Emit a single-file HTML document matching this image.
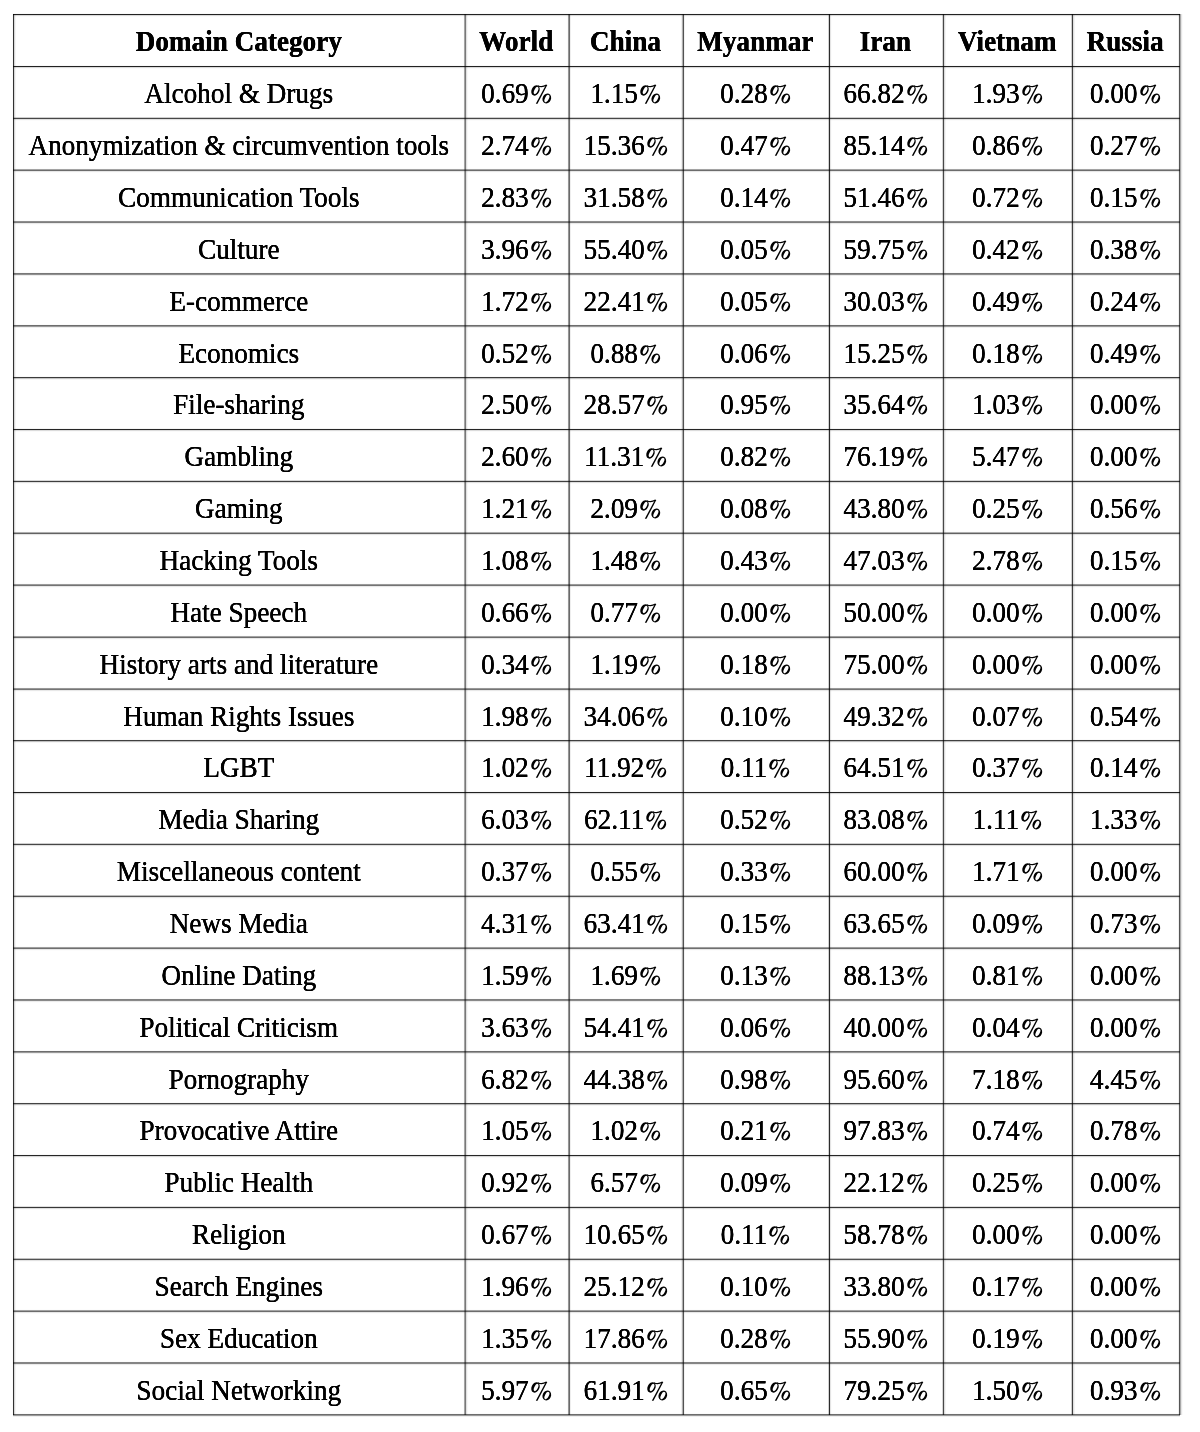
<!DOCTYPE html>
<html><head><meta charset="utf-8"><style>
html,body{margin:0;padding:0;background:#fff;}
body{width:1200px;height:1432px;position:relative;overflow:hidden;font-family:"Liberation Serif",serif;color:#000;}
.l{position:absolute;mix-blend-mode:multiply;}
.h{left:13px;width:1167px;height:1px;}
.v{top:14px;height:1401px;width:1px;}
.t{position:absolute;width:700px;margin-left:-350px;text-align:center;white-space:nowrap;font-size:27.2px;line-height:27.2px;height:27.2px;transform-origin:50% 22.780px;transform:translateY(0.9px) scaleY(1.05);text-shadow:0.12px 0 0 #000,-0.12px 0 0 #000;}
.b{font-weight:bold;}
.pc{vertical-align:-1px;overflow:visible;}
</style></head><body>
<div class="l h" style="top:13px;background:rgb(249,249,249)"></div>
<div class="l h" style="top:14px;background:rgb(34,34,34)"></div>
<div class="l h" style="top:15px;background:rgb(218,218,218)"></div>
<div class="l h" style="top:16px;background:rgb(250,250,250)"></div>
<div class="l h" style="top:65px;background:rgb(249,249,249)"></div>
<div class="l h" style="top:66px;background:rgb(34,34,34)"></div>
<div class="l h" style="top:67px;background:rgb(218,218,218)"></div>
<div class="l h" style="top:68px;background:rgb(250,250,250)"></div>
<div class="l h" style="top:117px;background:rgb(206,206,206)"></div>
<div class="l h" style="top:118px;background:rgb(71,71,71)"></div>
<div class="l h" style="top:119px;background:rgb(224,224,224)"></div>
<div class="l h" style="top:120px;background:rgb(251,251,251)"></div>
<div class="l h" style="top:168px;background:rgb(253,253,253)"></div>
<div class="l h" style="top:169px;background:rgb(163,163,163)"></div>
<div class="l h" style="top:170px;background:rgb(108,108,108)"></div>
<div class="l h" style="top:171px;background:rgb(231,231,231)"></div>
<div class="l h" style="top:172px;background:rgb(252,252,252)"></div>
<div class="l h" style="top:220px;background:rgb(252,252,252)"></div>
<div class="l h" style="top:221px;background:rgb(142,142,142)"></div>
<div class="l h" style="top:222px;background:rgb(126,126,126)"></div>
<div class="l h" style="top:223px;background:rgb(234,234,234)"></div>
<div class="l h" style="top:224px;background:rgb(252,252,252)"></div>
<div class="l h" style="top:272px;background:rgb(251,251,251)"></div>
<div class="l h" style="top:273px;background:rgb(120,120,120)"></div>
<div class="l h" style="top:274px;background:rgb(144,144,144)"></div>
<div class="l h" style="top:275px;background:rgb(237,237,237)"></div>
<div class="l h" style="top:324px;background:rgb(251,251,251)"></div>
<div class="l h" style="top:325px;background:rgb(109,109,109)"></div>
<div class="l h" style="top:326px;background:rgb(154,154,154)"></div>
<div class="l h" style="top:327px;background:rgb(239,239,239)"></div>
<div class="l h" style="top:376px;background:rgb(250,250,250)"></div>
<div class="l h" style="top:377px;background:rgb(60,60,60)"></div>
<div class="l h" style="top:378px;background:rgb(196,196,196)"></div>
<div class="l h" style="top:379px;background:rgb(246,246,246)"></div>
<div class="l h" style="top:428px;background:rgb(245,245,245)"></div>
<div class="l h" style="top:429px;background:rgb(38,38,38)"></div>
<div class="l h" style="top:430px;background:rgb(219,219,219)"></div>
<div class="l h" style="top:431px;background:rgb(250,250,250)"></div>
<div class="l h" style="top:480px;background:rgb(215,215,215)"></div>
<div class="l h" style="top:481px;background:rgb(63,63,63)"></div>
<div class="l h" style="top:482px;background:rgb(223,223,223)"></div>
<div class="l h" style="top:483px;background:rgb(251,251,251)"></div>
<div class="l h" style="top:531px;background:rgb(253,253,253)"></div>
<div class="l h" style="top:532px;background:rgb(174,174,174)"></div>
<div class="l h" style="top:533px;background:rgb(98,98,98)"></div>
<div class="l h" style="top:534px;background:rgb(229,229,229)"></div>
<div class="l h" style="top:535px;background:rgb(252,252,252)"></div>
<div class="l h" style="top:583px;background:rgb(252,252,252)"></div>
<div class="l h" style="top:584px;background:rgb(154,154,154)"></div>
<div class="l h" style="top:585px;background:rgb(115,115,115)"></div>
<div class="l h" style="top:586px;background:rgb(232,232,232)"></div>
<div class="l h" style="top:587px;background:rgb(252,252,252)"></div>
<div class="l h" style="top:635px;background:rgb(253,253,253)"></div>
<div class="l h" style="top:636px;background:rgb(163,163,163)"></div>
<div class="l h" style="top:637px;background:rgb(108,108,108)"></div>
<div class="l h" style="top:638px;background:rgb(231,231,231)"></div>
<div class="l h" style="top:639px;background:rgb(252,252,252)"></div>
<div class="l h" style="top:687px;background:rgb(252,252,252)"></div>
<div class="l h" style="top:688px;background:rgb(152,152,152)"></div>
<div class="l h" style="top:689px;background:rgb(117,117,117)"></div>
<div class="l h" style="top:690px;background:rgb(232,232,232)"></div>
<div class="l h" style="top:691px;background:rgb(252,252,252)"></div>
<div class="l h" style="top:739px;background:rgb(250,250,250)"></div>
<div class="l h" style="top:740px;background:rgb(64,64,64)"></div>
<div class="l h" style="top:741px;background:rgb(192,192,192)"></div>
<div class="l h" style="top:742px;background:rgb(246,246,246)"></div>
<div class="l h" style="top:791px;background:rgb(249,249,249)"></div>
<div class="l h" style="top:792px;background:rgb(34,34,34)"></div>
<div class="l h" style="top:793px;background:rgb(218,218,218)"></div>
<div class="l h" style="top:794px;background:rgb(250,250,250)"></div>
<div class="l h" style="top:843px;background:rgb(206,206,206)"></div>
<div class="l h" style="top:844px;background:rgb(71,71,71)"></div>
<div class="l h" style="top:845px;background:rgb(224,224,224)"></div>
<div class="l h" style="top:846px;background:rgb(251,251,251)"></div>
<div class="l h" style="top:895px;background:rgb(189,189,189)"></div>
<div class="l h" style="top:896px;background:rgb(86,86,86)"></div>
<div class="l h" style="top:897px;background:rgb(227,227,227)"></div>
<div class="l h" style="top:898px;background:rgb(251,251,251)"></div>
<div class="l h" style="top:946px;background:rgb(252,252,252)"></div>
<div class="l h" style="top:947px;background:rgb(159,159,159)"></div>
<div class="l h" style="top:948px;background:rgb(111,111,111)"></div>
<div class="l h" style="top:949px;background:rgb(231,231,231)"></div>
<div class="l h" style="top:950px;background:rgb(252,252,252)"></div>
<div class="l h" style="top:998px;background:rgb(252,252,252)"></div>
<div class="l h" style="top:999px;background:rgb(129,129,129)"></div>
<div class="l h" style="top:1000px;background:rgb(137,137,137)"></div>
<div class="l h" style="top:1001px;background:rgb(236,236,236)"></div>
<div class="l h" style="top:1002px;background:rgb(253,253,253)"></div>
<div class="l h" style="top:1050px;background:rgb(251,251,251)"></div>
<div class="l h" style="top:1051px;background:rgb(109,109,109)"></div>
<div class="l h" style="top:1052px;background:rgb(154,154,154)"></div>
<div class="l h" style="top:1053px;background:rgb(239,239,239)"></div>
<div class="l h" style="top:1102px;background:rgb(250,250,250)"></div>
<div class="l h" style="top:1103px;background:rgb(68,68,68)"></div>
<div class="l h" style="top:1104px;background:rgb(189,189,189)"></div>
<div class="l h" style="top:1105px;background:rgb(245,245,245)"></div>
<div class="l h" style="top:1154px;background:rgb(249,249,249)"></div>
<div class="l h" style="top:1155px;background:rgb(38,38,38)"></div>
<div class="l h" style="top:1156px;background:rgb(214,214,214)"></div>
<div class="l h" style="top:1157px;background:rgb(249,249,249)"></div>
<div class="l h" style="top:1206px;background:rgb(223,223,223)"></div>
<div class="l h" style="top:1207px;background:rgb(56,56,56)"></div>
<div class="l h" style="top:1208px;background:rgb(222,222,222)"></div>
<div class="l h" style="top:1209px;background:rgb(251,251,251)"></div>
<div class="l h" style="top:1258px;background:rgb(193,193,193)"></div>
<div class="l h" style="top:1259px;background:rgb(82,82,82)"></div>
<div class="l h" style="top:1260px;background:rgb(226,226,226)"></div>
<div class="l h" style="top:1261px;background:rgb(251,251,251)"></div>
<div class="l h" style="top:1309px;background:rgb(253,253,253)"></div>
<div class="l h" style="top:1310px;background:rgb(163,163,163)"></div>
<div class="l h" style="top:1311px;background:rgb(108,108,108)"></div>
<div class="l h" style="top:1312px;background:rgb(231,231,231)"></div>
<div class="l h" style="top:1313px;background:rgb(252,252,252)"></div>
<div class="l h" style="top:1361px;background:rgb(252,252,252)"></div>
<div class="l h" style="top:1362px;background:rgb(133,133,133)"></div>
<div class="l h" style="top:1363px;background:rgb(133,133,133)"></div>
<div class="l h" style="top:1364px;background:rgb(235,235,235)"></div>
<div class="l h" style="top:1365px;background:rgb(253,253,253)"></div>
<div class="l h" style="top:1413px;background:rgb(251,251,251)"></div>
<div class="l h" style="top:1414px;background:rgb(109,109,109)"></div>
<div class="l h" style="top:1415px;background:rgb(154,154,154)"></div>
<div class="l h" style="top:1416px;background:rgb(239,239,239)"></div>
<div class="l v" style="left:12px;background:rgb(250,250,250)"></div>
<div class="l v" style="left:13px;background:rgb(48,48,48)"></div>
<div class="l v" style="left:14px;background:rgb(215,215,215)"></div>
<div class="l v" style="left:15px;background:rgb(245,245,245)"></div>
<div class="l v" style="left:463px;background:rgb(252,252,252)"></div>
<div class="l v" style="left:464px;background:rgb(165,165,165)"></div>
<div class="l v" style="left:465px;background:rgb(120,120,120)"></div>
<div class="l v" style="left:466px;background:rgb(225,225,225)"></div>
<div class="l v" style="left:467px;background:rgb(248,248,248)"></div>
<div class="l v" style="left:567px;background:rgb(250,250,250)"></div>
<div class="l v" style="left:568px;background:rgb(150,150,150)"></div>
<div class="l v" style="left:569px;background:rgb(106,106,106)"></div>
<div class="l v" style="left:570px;background:rgb(238,238,238)"></div>
<div class="l v" style="left:681px;background:rgb(240,240,240)"></div>
<div class="l v" style="left:682px;background:rgb(176,176,176)"></div>
<div class="l v" style="left:683px;background:rgb(82,82,82)"></div>
<div class="l v" style="left:684px;background:rgb(242,242,242)"></div>
<div class="l v" style="left:828px;background:rgb(210,210,210)"></div>
<div class="l v" style="left:829px;background:rgb(44,44,44)"></div>
<div class="l v" style="left:830px;background:rgb(228,228,228)"></div>
<div class="l v" style="left:831px;background:rgb(252,252,252)"></div>
<div class="l v" style="left:942px;background:rgb(213,213,213)"></div>
<div class="l v" style="left:943px;background:rgb(71,71,71)"></div>
<div class="l v" style="left:944px;background:rgb(220,220,220)"></div>
<div class="l v" style="left:945px;background:rgb(245,245,245)"></div>
<div class="l v" style="left:1071px;background:rgb(208,208,208)"></div>
<div class="l v" style="left:1072px;background:rgb(62,62,62)"></div>
<div class="l v" style="left:1073px;background:rgb(224,224,224)"></div>
<div class="l v" style="left:1074px;background:rgb(243,243,243)"></div>
<div class="l v" style="left:1178px;background:rgb(240,240,240)"></div>
<div class="l v" style="left:1179px;background:rgb(85,85,85)"></div>
<div class="l v" style="left:1180px;background:rgb(168,168,168)"></div>
<div class="l v" style="left:1181px;background:rgb(229,229,229)"></div>
<div class="l v" style="left:1182px;background:rgb(250,250,250)"></div>
<div class="t b" style="left:238.80px;top:28.22px">Domain Category</div>
<div class="t b" style="left:516.25px;top:28.22px">World</div>
<div class="t b" style="left:625.50px;top:28.22px">China</div>
<div class="t b" style="left:755.35px;top:28.22px">Myanmar</div>
<div class="t b" style="left:885.40px;top:28.22px">Iran</div>
<div class="t b" style="left:1007.20px;top:28.22px">Vietnam</div>
<div class="t b" style="left:1125.10px;top:28.22px">Russia</div>
<div class="t" style="left:238.80px;top:80.22px">Alcohol &amp; Drugs</div>
<div class="t" style="left:516.25px;top:80.22px">0.69<svg class="pc" width="22.66" height="20" viewBox="0 0 22.66 20"><g transform="translate(-644.40,19.00) scale(1,0.9524) translate(0,-776.60)"><path fill-rule="evenodd" d="M654.43 765.85A3.9 5.2 25 1 0 647.37 762.55A3.9 5.2 25 1 0 654.43 765.85ZM653.09 764.94A1.75 3.9 25 1 0 649.91 763.46A1.75 3.9 25 1 0 653.09 764.94ZM666.01 773.97A4.2 5.1 25 1 0 658.39 770.43A4.2 5.1 25 1 0 666.01 773.97ZM664.02 773.10A1.9 3.8 25 1 0 660.58 771.50A1.9 3.8 25 1 0 664.02 773.10Z"/><path d="M651.2 777.5L652.9 777.5L662.7 758.8L661.4 758.5Z"/><path fill="none" stroke="#000" stroke-width="1.15" d="M653.3 759.4C655.5 760.6 658.6 760.7 661.9 758.8"/></g></svg></div>
<div class="t" style="left:625.50px;top:80.22px">1.15<svg class="pc" width="22.66" height="20" viewBox="0 0 22.66 20"><g transform="translate(-644.40,19.00) scale(1,0.9524) translate(0,-776.60)"><path fill-rule="evenodd" d="M654.43 765.85A3.9 5.2 25 1 0 647.37 762.55A3.9 5.2 25 1 0 654.43 765.85ZM653.09 764.94A1.75 3.9 25 1 0 649.91 763.46A1.75 3.9 25 1 0 653.09 764.94ZM666.01 773.97A4.2 5.1 25 1 0 658.39 770.43A4.2 5.1 25 1 0 666.01 773.97ZM664.02 773.10A1.9 3.8 25 1 0 660.58 771.50A1.9 3.8 25 1 0 664.02 773.10Z"/><path d="M651.2 777.5L652.9 777.5L662.7 758.8L661.4 758.5Z"/><path fill="none" stroke="#000" stroke-width="1.15" d="M653.3 759.4C655.5 760.6 658.6 760.7 661.9 758.8"/></g></svg></div>
<div class="t" style="left:755.35px;top:80.22px">0.28<svg class="pc" width="22.66" height="20" viewBox="0 0 22.66 20"><g transform="translate(-644.40,19.00) scale(1,0.9524) translate(0,-776.60)"><path fill-rule="evenodd" d="M654.43 765.85A3.9 5.2 25 1 0 647.37 762.55A3.9 5.2 25 1 0 654.43 765.85ZM653.09 764.94A1.75 3.9 25 1 0 649.91 763.46A1.75 3.9 25 1 0 653.09 764.94ZM666.01 773.97A4.2 5.1 25 1 0 658.39 770.43A4.2 5.1 25 1 0 666.01 773.97ZM664.02 773.10A1.9 3.8 25 1 0 660.58 771.50A1.9 3.8 25 1 0 664.02 773.10Z"/><path d="M651.2 777.5L652.9 777.5L662.7 758.8L661.4 758.5Z"/><path fill="none" stroke="#000" stroke-width="1.15" d="M653.3 759.4C655.5 760.6 658.6 760.7 661.9 758.8"/></g></svg></div>
<div class="t" style="left:885.40px;top:80.22px">66.82<svg class="pc" width="22.66" height="20" viewBox="0 0 22.66 20"><g transform="translate(-644.40,19.00) scale(1,0.9524) translate(0,-776.60)"><path fill-rule="evenodd" d="M654.43 765.85A3.9 5.2 25 1 0 647.37 762.55A3.9 5.2 25 1 0 654.43 765.85ZM653.09 764.94A1.75 3.9 25 1 0 649.91 763.46A1.75 3.9 25 1 0 653.09 764.94ZM666.01 773.97A4.2 5.1 25 1 0 658.39 770.43A4.2 5.1 25 1 0 666.01 773.97ZM664.02 773.10A1.9 3.8 25 1 0 660.58 771.50A1.9 3.8 25 1 0 664.02 773.10Z"/><path d="M651.2 777.5L652.9 777.5L662.7 758.8L661.4 758.5Z"/><path fill="none" stroke="#000" stroke-width="1.15" d="M653.3 759.4C655.5 760.6 658.6 760.7 661.9 758.8"/></g></svg></div>
<div class="t" style="left:1007.20px;top:80.22px">1.93<svg class="pc" width="22.66" height="20" viewBox="0 0 22.66 20"><g transform="translate(-644.40,19.00) scale(1,0.9524) translate(0,-776.60)"><path fill-rule="evenodd" d="M654.43 765.85A3.9 5.2 25 1 0 647.37 762.55A3.9 5.2 25 1 0 654.43 765.85ZM653.09 764.94A1.75 3.9 25 1 0 649.91 763.46A1.75 3.9 25 1 0 653.09 764.94ZM666.01 773.97A4.2 5.1 25 1 0 658.39 770.43A4.2 5.1 25 1 0 666.01 773.97ZM664.02 773.10A1.9 3.8 25 1 0 660.58 771.50A1.9 3.8 25 1 0 664.02 773.10Z"/><path d="M651.2 777.5L652.9 777.5L662.7 758.8L661.4 758.5Z"/><path fill="none" stroke="#000" stroke-width="1.15" d="M653.3 759.4C655.5 760.6 658.6 760.7 661.9 758.8"/></g></svg></div>
<div class="t" style="left:1125.10px;top:80.22px">0.00<svg class="pc" width="22.66" height="20" viewBox="0 0 22.66 20"><g transform="translate(-644.40,19.00) scale(1,0.9524) translate(0,-776.60)"><path fill-rule="evenodd" d="M654.43 765.85A3.9 5.2 25 1 0 647.37 762.55A3.9 5.2 25 1 0 654.43 765.85ZM653.09 764.94A1.75 3.9 25 1 0 649.91 763.46A1.75 3.9 25 1 0 653.09 764.94ZM666.01 773.97A4.2 5.1 25 1 0 658.39 770.43A4.2 5.1 25 1 0 666.01 773.97ZM664.02 773.10A1.9 3.8 25 1 0 660.58 771.50A1.9 3.8 25 1 0 664.02 773.10Z"/><path d="M651.2 777.5L652.9 777.5L662.7 758.8L661.4 758.5Z"/><path fill="none" stroke="#000" stroke-width="1.15" d="M653.3 759.4C655.5 760.6 658.6 760.7 661.9 758.8"/></g></svg></div>
<div class="t" style="left:238.80px;top:132.02px">Anonymization &amp; circumvention tools</div>
<div class="t" style="left:516.25px;top:132.02px">2.74<svg class="pc" width="22.66" height="20" viewBox="0 0 22.66 20"><g transform="translate(-644.40,19.00) scale(1,0.9524) translate(0,-776.60)"><path fill-rule="evenodd" d="M654.43 765.85A3.9 5.2 25 1 0 647.37 762.55A3.9 5.2 25 1 0 654.43 765.85ZM653.09 764.94A1.75 3.9 25 1 0 649.91 763.46A1.75 3.9 25 1 0 653.09 764.94ZM666.01 773.97A4.2 5.1 25 1 0 658.39 770.43A4.2 5.1 25 1 0 666.01 773.97ZM664.02 773.10A1.9 3.8 25 1 0 660.58 771.50A1.9 3.8 25 1 0 664.02 773.10Z"/><path d="M651.2 777.5L652.9 777.5L662.7 758.8L661.4 758.5Z"/><path fill="none" stroke="#000" stroke-width="1.15" d="M653.3 759.4C655.5 760.6 658.6 760.7 661.9 758.8"/></g></svg></div>
<div class="t" style="left:625.50px;top:132.02px">15.36<svg class="pc" width="22.66" height="20" viewBox="0 0 22.66 20"><g transform="translate(-644.40,19.00) scale(1,0.9524) translate(0,-776.60)"><path fill-rule="evenodd" d="M654.43 765.85A3.9 5.2 25 1 0 647.37 762.55A3.9 5.2 25 1 0 654.43 765.85ZM653.09 764.94A1.75 3.9 25 1 0 649.91 763.46A1.75 3.9 25 1 0 653.09 764.94ZM666.01 773.97A4.2 5.1 25 1 0 658.39 770.43A4.2 5.1 25 1 0 666.01 773.97ZM664.02 773.10A1.9 3.8 25 1 0 660.58 771.50A1.9 3.8 25 1 0 664.02 773.10Z"/><path d="M651.2 777.5L652.9 777.5L662.7 758.8L661.4 758.5Z"/><path fill="none" stroke="#000" stroke-width="1.15" d="M653.3 759.4C655.5 760.6 658.6 760.7 661.9 758.8"/></g></svg></div>
<div class="t" style="left:755.35px;top:132.02px">0.47<svg class="pc" width="22.66" height="20" viewBox="0 0 22.66 20"><g transform="translate(-644.40,19.00) scale(1,0.9524) translate(0,-776.60)"><path fill-rule="evenodd" d="M654.43 765.85A3.9 5.2 25 1 0 647.37 762.55A3.9 5.2 25 1 0 654.43 765.85ZM653.09 764.94A1.75 3.9 25 1 0 649.91 763.46A1.75 3.9 25 1 0 653.09 764.94ZM666.01 773.97A4.2 5.1 25 1 0 658.39 770.43A4.2 5.1 25 1 0 666.01 773.97ZM664.02 773.10A1.9 3.8 25 1 0 660.58 771.50A1.9 3.8 25 1 0 664.02 773.10Z"/><path d="M651.2 777.5L652.9 777.5L662.7 758.8L661.4 758.5Z"/><path fill="none" stroke="#000" stroke-width="1.15" d="M653.3 759.4C655.5 760.6 658.6 760.7 661.9 758.8"/></g></svg></div>
<div class="t" style="left:885.40px;top:132.02px">85.14<svg class="pc" width="22.66" height="20" viewBox="0 0 22.66 20"><g transform="translate(-644.40,19.00) scale(1,0.9524) translate(0,-776.60)"><path fill-rule="evenodd" d="M654.43 765.85A3.9 5.2 25 1 0 647.37 762.55A3.9 5.2 25 1 0 654.43 765.85ZM653.09 764.94A1.75 3.9 25 1 0 649.91 763.46A1.75 3.9 25 1 0 653.09 764.94ZM666.01 773.97A4.2 5.1 25 1 0 658.39 770.43A4.2 5.1 25 1 0 666.01 773.97ZM664.02 773.10A1.9 3.8 25 1 0 660.58 771.50A1.9 3.8 25 1 0 664.02 773.10Z"/><path d="M651.2 777.5L652.9 777.5L662.7 758.8L661.4 758.5Z"/><path fill="none" stroke="#000" stroke-width="1.15" d="M653.3 759.4C655.5 760.6 658.6 760.7 661.9 758.8"/></g></svg></div>
<div class="t" style="left:1007.20px;top:132.02px">0.86<svg class="pc" width="22.66" height="20" viewBox="0 0 22.66 20"><g transform="translate(-644.40,19.00) scale(1,0.9524) translate(0,-776.60)"><path fill-rule="evenodd" d="M654.43 765.85A3.9 5.2 25 1 0 647.37 762.55A3.9 5.2 25 1 0 654.43 765.85ZM653.09 764.94A1.75 3.9 25 1 0 649.91 763.46A1.75 3.9 25 1 0 653.09 764.94ZM666.01 773.97A4.2 5.1 25 1 0 658.39 770.43A4.2 5.1 25 1 0 666.01 773.97ZM664.02 773.10A1.9 3.8 25 1 0 660.58 771.50A1.9 3.8 25 1 0 664.02 773.10Z"/><path d="M651.2 777.5L652.9 777.5L662.7 758.8L661.4 758.5Z"/><path fill="none" stroke="#000" stroke-width="1.15" d="M653.3 759.4C655.5 760.6 658.6 760.7 661.9 758.8"/></g></svg></div>
<div class="t" style="left:1125.10px;top:132.02px">0.27<svg class="pc" width="22.66" height="20" viewBox="0 0 22.66 20"><g transform="translate(-644.40,19.00) scale(1,0.9524) translate(0,-776.60)"><path fill-rule="evenodd" d="M654.43 765.85A3.9 5.2 25 1 0 647.37 762.55A3.9 5.2 25 1 0 654.43 765.85ZM653.09 764.94A1.75 3.9 25 1 0 649.91 763.46A1.75 3.9 25 1 0 653.09 764.94ZM666.01 773.97A4.2 5.1 25 1 0 658.39 770.43A4.2 5.1 25 1 0 666.01 773.97ZM664.02 773.10A1.9 3.8 25 1 0 660.58 771.50A1.9 3.8 25 1 0 664.02 773.10Z"/><path d="M651.2 777.5L652.9 777.5L662.7 758.8L661.4 758.5Z"/><path fill="none" stroke="#000" stroke-width="1.15" d="M653.3 759.4C655.5 760.6 658.6 760.7 661.9 758.8"/></g></svg></div>
<div class="t" style="left:238.80px;top:183.82px">Communication Tools</div>
<div class="t" style="left:516.25px;top:183.82px">2.83<svg class="pc" width="22.66" height="20" viewBox="0 0 22.66 20"><g transform="translate(-644.40,19.00) scale(1,0.9524) translate(0,-776.60)"><path fill-rule="evenodd" d="M654.43 765.85A3.9 5.2 25 1 0 647.37 762.55A3.9 5.2 25 1 0 654.43 765.85ZM653.09 764.94A1.75 3.9 25 1 0 649.91 763.46A1.75 3.9 25 1 0 653.09 764.94ZM666.01 773.97A4.2 5.1 25 1 0 658.39 770.43A4.2 5.1 25 1 0 666.01 773.97ZM664.02 773.10A1.9 3.8 25 1 0 660.58 771.50A1.9 3.8 25 1 0 664.02 773.10Z"/><path d="M651.2 777.5L652.9 777.5L662.7 758.8L661.4 758.5Z"/><path fill="none" stroke="#000" stroke-width="1.15" d="M653.3 759.4C655.5 760.6 658.6 760.7 661.9 758.8"/></g></svg></div>
<div class="t" style="left:625.50px;top:183.82px">31.58<svg class="pc" width="22.66" height="20" viewBox="0 0 22.66 20"><g transform="translate(-644.40,19.00) scale(1,0.9524) translate(0,-776.60)"><path fill-rule="evenodd" d="M654.43 765.85A3.9 5.2 25 1 0 647.37 762.55A3.9 5.2 25 1 0 654.43 765.85ZM653.09 764.94A1.75 3.9 25 1 0 649.91 763.46A1.75 3.9 25 1 0 653.09 764.94ZM666.01 773.97A4.2 5.1 25 1 0 658.39 770.43A4.2 5.1 25 1 0 666.01 773.97ZM664.02 773.10A1.9 3.8 25 1 0 660.58 771.50A1.9 3.8 25 1 0 664.02 773.10Z"/><path d="M651.2 777.5L652.9 777.5L662.7 758.8L661.4 758.5Z"/><path fill="none" stroke="#000" stroke-width="1.15" d="M653.3 759.4C655.5 760.6 658.6 760.7 661.9 758.8"/></g></svg></div>
<div class="t" style="left:755.35px;top:183.82px">0.14<svg class="pc" width="22.66" height="20" viewBox="0 0 22.66 20"><g transform="translate(-644.40,19.00) scale(1,0.9524) translate(0,-776.60)"><path fill-rule="evenodd" d="M654.43 765.85A3.9 5.2 25 1 0 647.37 762.55A3.9 5.2 25 1 0 654.43 765.85ZM653.09 764.94A1.75 3.9 25 1 0 649.91 763.46A1.75 3.9 25 1 0 653.09 764.94ZM666.01 773.97A4.2 5.1 25 1 0 658.39 770.43A4.2 5.1 25 1 0 666.01 773.97ZM664.02 773.10A1.9 3.8 25 1 0 660.58 771.50A1.9 3.8 25 1 0 664.02 773.10Z"/><path d="M651.2 777.5L652.9 777.5L662.7 758.8L661.4 758.5Z"/><path fill="none" stroke="#000" stroke-width="1.15" d="M653.3 759.4C655.5 760.6 658.6 760.7 661.9 758.8"/></g></svg></div>
<div class="t" style="left:885.40px;top:183.82px">51.46<svg class="pc" width="22.66" height="20" viewBox="0 0 22.66 20"><g transform="translate(-644.40,19.00) scale(1,0.9524) translate(0,-776.60)"><path fill-rule="evenodd" d="M654.43 765.85A3.9 5.2 25 1 0 647.37 762.55A3.9 5.2 25 1 0 654.43 765.85ZM653.09 764.94A1.75 3.9 25 1 0 649.91 763.46A1.75 3.9 25 1 0 653.09 764.94ZM666.01 773.97A4.2 5.1 25 1 0 658.39 770.43A4.2 5.1 25 1 0 666.01 773.97ZM664.02 773.10A1.9 3.8 25 1 0 660.58 771.50A1.9 3.8 25 1 0 664.02 773.10Z"/><path d="M651.2 777.5L652.9 777.5L662.7 758.8L661.4 758.5Z"/><path fill="none" stroke="#000" stroke-width="1.15" d="M653.3 759.4C655.5 760.6 658.6 760.7 661.9 758.8"/></g></svg></div>
<div class="t" style="left:1007.20px;top:183.82px">0.72<svg class="pc" width="22.66" height="20" viewBox="0 0 22.66 20"><g transform="translate(-644.40,19.00) scale(1,0.9524) translate(0,-776.60)"><path fill-rule="evenodd" d="M654.43 765.85A3.9 5.2 25 1 0 647.37 762.55A3.9 5.2 25 1 0 654.43 765.85ZM653.09 764.94A1.75 3.9 25 1 0 649.91 763.46A1.75 3.9 25 1 0 653.09 764.94ZM666.01 773.97A4.2 5.1 25 1 0 658.39 770.43A4.2 5.1 25 1 0 666.01 773.97ZM664.02 773.10A1.9 3.8 25 1 0 660.58 771.50A1.9 3.8 25 1 0 664.02 773.10Z"/><path d="M651.2 777.5L652.9 777.5L662.7 758.8L661.4 758.5Z"/><path fill="none" stroke="#000" stroke-width="1.15" d="M653.3 759.4C655.5 760.6 658.6 760.7 661.9 758.8"/></g></svg></div>
<div class="t" style="left:1125.10px;top:183.82px">0.15<svg class="pc" width="22.66" height="20" viewBox="0 0 22.66 20"><g transform="translate(-644.40,19.00) scale(1,0.9524) translate(0,-776.60)"><path fill-rule="evenodd" d="M654.43 765.85A3.9 5.2 25 1 0 647.37 762.55A3.9 5.2 25 1 0 654.43 765.85ZM653.09 764.94A1.75 3.9 25 1 0 649.91 763.46A1.75 3.9 25 1 0 653.09 764.94ZM666.01 773.97A4.2 5.1 25 1 0 658.39 770.43A4.2 5.1 25 1 0 666.01 773.97ZM664.02 773.10A1.9 3.8 25 1 0 660.58 771.50A1.9 3.8 25 1 0 664.02 773.10Z"/><path d="M651.2 777.5L652.9 777.5L662.7 758.8L661.4 758.5Z"/><path fill="none" stroke="#000" stroke-width="1.15" d="M653.3 759.4C655.5 760.6 658.6 760.7 661.9 758.8"/></g></svg></div>
<div class="t" style="left:238.80px;top:235.72px">Culture</div>
<div class="t" style="left:516.25px;top:235.72px">3.96<svg class="pc" width="22.66" height="20" viewBox="0 0 22.66 20"><g transform="translate(-644.40,19.00) scale(1,0.9524) translate(0,-776.60)"><path fill-rule="evenodd" d="M654.43 765.85A3.9 5.2 25 1 0 647.37 762.55A3.9 5.2 25 1 0 654.43 765.85ZM653.09 764.94A1.75 3.9 25 1 0 649.91 763.46A1.75 3.9 25 1 0 653.09 764.94ZM666.01 773.97A4.2 5.1 25 1 0 658.39 770.43A4.2 5.1 25 1 0 666.01 773.97ZM664.02 773.10A1.9 3.8 25 1 0 660.58 771.50A1.9 3.8 25 1 0 664.02 773.10Z"/><path d="M651.2 777.5L652.9 777.5L662.7 758.8L661.4 758.5Z"/><path fill="none" stroke="#000" stroke-width="1.15" d="M653.3 759.4C655.5 760.6 658.6 760.7 661.9 758.8"/></g></svg></div>
<div class="t" style="left:625.50px;top:235.72px">55.40<svg class="pc" width="22.66" height="20" viewBox="0 0 22.66 20"><g transform="translate(-644.40,19.00) scale(1,0.9524) translate(0,-776.60)"><path fill-rule="evenodd" d="M654.43 765.85A3.9 5.2 25 1 0 647.37 762.55A3.9 5.2 25 1 0 654.43 765.85ZM653.09 764.94A1.75 3.9 25 1 0 649.91 763.46A1.75 3.9 25 1 0 653.09 764.94ZM666.01 773.97A4.2 5.1 25 1 0 658.39 770.43A4.2 5.1 25 1 0 666.01 773.97ZM664.02 773.10A1.9 3.8 25 1 0 660.58 771.50A1.9 3.8 25 1 0 664.02 773.10Z"/><path d="M651.2 777.5L652.9 777.5L662.7 758.8L661.4 758.5Z"/><path fill="none" stroke="#000" stroke-width="1.15" d="M653.3 759.4C655.5 760.6 658.6 760.7 661.9 758.8"/></g></svg></div>
<div class="t" style="left:755.35px;top:235.72px">0.05<svg class="pc" width="22.66" height="20" viewBox="0 0 22.66 20"><g transform="translate(-644.40,19.00) scale(1,0.9524) translate(0,-776.60)"><path fill-rule="evenodd" d="M654.43 765.85A3.9 5.2 25 1 0 647.37 762.55A3.9 5.2 25 1 0 654.43 765.85ZM653.09 764.94A1.75 3.9 25 1 0 649.91 763.46A1.75 3.9 25 1 0 653.09 764.94ZM666.01 773.97A4.2 5.1 25 1 0 658.39 770.43A4.2 5.1 25 1 0 666.01 773.97ZM664.02 773.10A1.9 3.8 25 1 0 660.58 771.50A1.9 3.8 25 1 0 664.02 773.10Z"/><path d="M651.2 777.5L652.9 777.5L662.7 758.8L661.4 758.5Z"/><path fill="none" stroke="#000" stroke-width="1.15" d="M653.3 759.4C655.5 760.6 658.6 760.7 661.9 758.8"/></g></svg></div>
<div class="t" style="left:885.40px;top:235.72px">59.75<svg class="pc" width="22.66" height="20" viewBox="0 0 22.66 20"><g transform="translate(-644.40,19.00) scale(1,0.9524) translate(0,-776.60)"><path fill-rule="evenodd" d="M654.43 765.85A3.9 5.2 25 1 0 647.37 762.55A3.9 5.2 25 1 0 654.43 765.85ZM653.09 764.94A1.75 3.9 25 1 0 649.91 763.46A1.75 3.9 25 1 0 653.09 764.94ZM666.01 773.97A4.2 5.1 25 1 0 658.39 770.43A4.2 5.1 25 1 0 666.01 773.97ZM664.02 773.10A1.9 3.8 25 1 0 660.58 771.50A1.9 3.8 25 1 0 664.02 773.10Z"/><path d="M651.2 777.5L652.9 777.5L662.7 758.8L661.4 758.5Z"/><path fill="none" stroke="#000" stroke-width="1.15" d="M653.3 759.4C655.5 760.6 658.6 760.7 661.9 758.8"/></g></svg></div>
<div class="t" style="left:1007.20px;top:235.72px">0.42<svg class="pc" width="22.66" height="20" viewBox="0 0 22.66 20"><g transform="translate(-644.40,19.00) scale(1,0.9524) translate(0,-776.60)"><path fill-rule="evenodd" d="M654.43 765.85A3.9 5.2 25 1 0 647.37 762.55A3.9 5.2 25 1 0 654.43 765.85ZM653.09 764.94A1.75 3.9 25 1 0 649.91 763.46A1.75 3.9 25 1 0 653.09 764.94ZM666.01 773.97A4.2 5.1 25 1 0 658.39 770.43A4.2 5.1 25 1 0 666.01 773.97ZM664.02 773.10A1.9 3.8 25 1 0 660.58 771.50A1.9 3.8 25 1 0 664.02 773.10Z"/><path d="M651.2 777.5L652.9 777.5L662.7 758.8L661.4 758.5Z"/><path fill="none" stroke="#000" stroke-width="1.15" d="M653.3 759.4C655.5 760.6 658.6 760.7 661.9 758.8"/></g></svg></div>
<div class="t" style="left:1125.10px;top:235.72px">0.38<svg class="pc" width="22.66" height="20" viewBox="0 0 22.66 20"><g transform="translate(-644.40,19.00) scale(1,0.9524) translate(0,-776.60)"><path fill-rule="evenodd" d="M654.43 765.85A3.9 5.2 25 1 0 647.37 762.55A3.9 5.2 25 1 0 654.43 765.85ZM653.09 764.94A1.75 3.9 25 1 0 649.91 763.46A1.75 3.9 25 1 0 653.09 764.94ZM666.01 773.97A4.2 5.1 25 1 0 658.39 770.43A4.2 5.1 25 1 0 666.01 773.97ZM664.02 773.10A1.9 3.8 25 1 0 660.58 771.50A1.9 3.8 25 1 0 664.02 773.10Z"/><path d="M651.2 777.5L652.9 777.5L662.7 758.8L661.4 758.5Z"/><path fill="none" stroke="#000" stroke-width="1.15" d="M653.3 759.4C655.5 760.6 658.6 760.7 661.9 758.8"/></g></svg></div>
<div class="t" style="left:238.80px;top:287.62px">E-commerce</div>
<div class="t" style="left:516.25px;top:287.62px">1.72<svg class="pc" width="22.66" height="20" viewBox="0 0 22.66 20"><g transform="translate(-644.40,19.00) scale(1,0.9524) translate(0,-776.60)"><path fill-rule="evenodd" d="M654.43 765.85A3.9 5.2 25 1 0 647.37 762.55A3.9 5.2 25 1 0 654.43 765.85ZM653.09 764.94A1.75 3.9 25 1 0 649.91 763.46A1.75 3.9 25 1 0 653.09 764.94ZM666.01 773.97A4.2 5.1 25 1 0 658.39 770.43A4.2 5.1 25 1 0 666.01 773.97ZM664.02 773.10A1.9 3.8 25 1 0 660.58 771.50A1.9 3.8 25 1 0 664.02 773.10Z"/><path d="M651.2 777.5L652.9 777.5L662.7 758.8L661.4 758.5Z"/><path fill="none" stroke="#000" stroke-width="1.15" d="M653.3 759.4C655.5 760.6 658.6 760.7 661.9 758.8"/></g></svg></div>
<div class="t" style="left:625.50px;top:287.62px">22.41<svg class="pc" width="22.66" height="20" viewBox="0 0 22.66 20"><g transform="translate(-644.40,19.00) scale(1,0.9524) translate(0,-776.60)"><path fill-rule="evenodd" d="M654.43 765.85A3.9 5.2 25 1 0 647.37 762.55A3.9 5.2 25 1 0 654.43 765.85ZM653.09 764.94A1.75 3.9 25 1 0 649.91 763.46A1.75 3.9 25 1 0 653.09 764.94ZM666.01 773.97A4.2 5.1 25 1 0 658.39 770.43A4.2 5.1 25 1 0 666.01 773.97ZM664.02 773.10A1.9 3.8 25 1 0 660.58 771.50A1.9 3.8 25 1 0 664.02 773.10Z"/><path d="M651.2 777.5L652.9 777.5L662.7 758.8L661.4 758.5Z"/><path fill="none" stroke="#000" stroke-width="1.15" d="M653.3 759.4C655.5 760.6 658.6 760.7 661.9 758.8"/></g></svg></div>
<div class="t" style="left:755.35px;top:287.62px">0.05<svg class="pc" width="22.66" height="20" viewBox="0 0 22.66 20"><g transform="translate(-644.40,19.00) scale(1,0.9524) translate(0,-776.60)"><path fill-rule="evenodd" d="M654.43 765.85A3.9 5.2 25 1 0 647.37 762.55A3.9 5.2 25 1 0 654.43 765.85ZM653.09 764.94A1.75 3.9 25 1 0 649.91 763.46A1.75 3.9 25 1 0 653.09 764.94ZM666.01 773.97A4.2 5.1 25 1 0 658.39 770.43A4.2 5.1 25 1 0 666.01 773.97ZM664.02 773.10A1.9 3.8 25 1 0 660.58 771.50A1.9 3.8 25 1 0 664.02 773.10Z"/><path d="M651.2 777.5L652.9 777.5L662.7 758.8L661.4 758.5Z"/><path fill="none" stroke="#000" stroke-width="1.15" d="M653.3 759.4C655.5 760.6 658.6 760.7 661.9 758.8"/></g></svg></div>
<div class="t" style="left:885.40px;top:287.62px">30.03<svg class="pc" width="22.66" height="20" viewBox="0 0 22.66 20"><g transform="translate(-644.40,19.00) scale(1,0.9524) translate(0,-776.60)"><path fill-rule="evenodd" d="M654.43 765.85A3.9 5.2 25 1 0 647.37 762.55A3.9 5.2 25 1 0 654.43 765.85ZM653.09 764.94A1.75 3.9 25 1 0 649.91 763.46A1.75 3.9 25 1 0 653.09 764.94ZM666.01 773.97A4.2 5.1 25 1 0 658.39 770.43A4.2 5.1 25 1 0 666.01 773.97ZM664.02 773.10A1.9 3.8 25 1 0 660.58 771.50A1.9 3.8 25 1 0 664.02 773.10Z"/><path d="M651.2 777.5L652.9 777.5L662.7 758.8L661.4 758.5Z"/><path fill="none" stroke="#000" stroke-width="1.15" d="M653.3 759.4C655.5 760.6 658.6 760.7 661.9 758.8"/></g></svg></div>
<div class="t" style="left:1007.20px;top:287.62px">0.49<svg class="pc" width="22.66" height="20" viewBox="0 0 22.66 20"><g transform="translate(-644.40,19.00) scale(1,0.9524) translate(0,-776.60)"><path fill-rule="evenodd" d="M654.43 765.85A3.9 5.2 25 1 0 647.37 762.55A3.9 5.2 25 1 0 654.43 765.85ZM653.09 764.94A1.75 3.9 25 1 0 649.91 763.46A1.75 3.9 25 1 0 653.09 764.94ZM666.01 773.97A4.2 5.1 25 1 0 658.39 770.43A4.2 5.1 25 1 0 666.01 773.97ZM664.02 773.10A1.9 3.8 25 1 0 660.58 771.50A1.9 3.8 25 1 0 664.02 773.10Z"/><path d="M651.2 777.5L652.9 777.5L662.7 758.8L661.4 758.5Z"/><path fill="none" stroke="#000" stroke-width="1.15" d="M653.3 759.4C655.5 760.6 658.6 760.7 661.9 758.8"/></g></svg></div>
<div class="t" style="left:1125.10px;top:287.62px">0.24<svg class="pc" width="22.66" height="20" viewBox="0 0 22.66 20"><g transform="translate(-644.40,19.00) scale(1,0.9524) translate(0,-776.60)"><path fill-rule="evenodd" d="M654.43 765.85A3.9 5.2 25 1 0 647.37 762.55A3.9 5.2 25 1 0 654.43 765.85ZM653.09 764.94A1.75 3.9 25 1 0 649.91 763.46A1.75 3.9 25 1 0 653.09 764.94ZM666.01 773.97A4.2 5.1 25 1 0 658.39 770.43A4.2 5.1 25 1 0 666.01 773.97ZM664.02 773.10A1.9 3.8 25 1 0 660.58 771.50A1.9 3.8 25 1 0 664.02 773.10Z"/><path d="M651.2 777.5L652.9 777.5L662.7 758.8L661.4 758.5Z"/><path fill="none" stroke="#000" stroke-width="1.15" d="M653.3 759.4C655.5 760.6 658.6 760.7 661.9 758.8"/></g></svg></div>
<div class="t" style="left:238.80px;top:339.57px">Economics</div>
<div class="t" style="left:516.25px;top:339.57px">0.52<svg class="pc" width="22.66" height="20" viewBox="0 0 22.66 20"><g transform="translate(-644.40,19.00) scale(1,0.9524) translate(0,-776.60)"><path fill-rule="evenodd" d="M654.43 765.85A3.9 5.2 25 1 0 647.37 762.55A3.9 5.2 25 1 0 654.43 765.85ZM653.09 764.94A1.75 3.9 25 1 0 649.91 763.46A1.75 3.9 25 1 0 653.09 764.94ZM666.01 773.97A4.2 5.1 25 1 0 658.39 770.43A4.2 5.1 25 1 0 666.01 773.97ZM664.02 773.10A1.9 3.8 25 1 0 660.58 771.50A1.9 3.8 25 1 0 664.02 773.10Z"/><path d="M651.2 777.5L652.9 777.5L662.7 758.8L661.4 758.5Z"/><path fill="none" stroke="#000" stroke-width="1.15" d="M653.3 759.4C655.5 760.6 658.6 760.7 661.9 758.8"/></g></svg></div>
<div class="t" style="left:625.50px;top:339.57px">0.88<svg class="pc" width="22.66" height="20" viewBox="0 0 22.66 20"><g transform="translate(-644.40,19.00) scale(1,0.9524) translate(0,-776.60)"><path fill-rule="evenodd" d="M654.43 765.85A3.9 5.2 25 1 0 647.37 762.55A3.9 5.2 25 1 0 654.43 765.85ZM653.09 764.94A1.75 3.9 25 1 0 649.91 763.46A1.75 3.9 25 1 0 653.09 764.94ZM666.01 773.97A4.2 5.1 25 1 0 658.39 770.43A4.2 5.1 25 1 0 666.01 773.97ZM664.02 773.10A1.9 3.8 25 1 0 660.58 771.50A1.9 3.8 25 1 0 664.02 773.10Z"/><path d="M651.2 777.5L652.9 777.5L662.7 758.8L661.4 758.5Z"/><path fill="none" stroke="#000" stroke-width="1.15" d="M653.3 759.4C655.5 760.6 658.6 760.7 661.9 758.8"/></g></svg></div>
<div class="t" style="left:755.35px;top:339.57px">0.06<svg class="pc" width="22.66" height="20" viewBox="0 0 22.66 20"><g transform="translate(-644.40,19.00) scale(1,0.9524) translate(0,-776.60)"><path fill-rule="evenodd" d="M654.43 765.85A3.9 5.2 25 1 0 647.37 762.55A3.9 5.2 25 1 0 654.43 765.85ZM653.09 764.94A1.75 3.9 25 1 0 649.91 763.46A1.75 3.9 25 1 0 653.09 764.94ZM666.01 773.97A4.2 5.1 25 1 0 658.39 770.43A4.2 5.1 25 1 0 666.01 773.97ZM664.02 773.10A1.9 3.8 25 1 0 660.58 771.50A1.9 3.8 25 1 0 664.02 773.10Z"/><path d="M651.2 777.5L652.9 777.5L662.7 758.8L661.4 758.5Z"/><path fill="none" stroke="#000" stroke-width="1.15" d="M653.3 759.4C655.5 760.6 658.6 760.7 661.9 758.8"/></g></svg></div>
<div class="t" style="left:885.40px;top:339.57px">15.25<svg class="pc" width="22.66" height="20" viewBox="0 0 22.66 20"><g transform="translate(-644.40,19.00) scale(1,0.9524) translate(0,-776.60)"><path fill-rule="evenodd" d="M654.43 765.85A3.9 5.2 25 1 0 647.37 762.55A3.9 5.2 25 1 0 654.43 765.85ZM653.09 764.94A1.75 3.9 25 1 0 649.91 763.46A1.75 3.9 25 1 0 653.09 764.94ZM666.01 773.97A4.2 5.1 25 1 0 658.39 770.43A4.2 5.1 25 1 0 666.01 773.97ZM664.02 773.10A1.9 3.8 25 1 0 660.58 771.50A1.9 3.8 25 1 0 664.02 773.10Z"/><path d="M651.2 777.5L652.9 777.5L662.7 758.8L661.4 758.5Z"/><path fill="none" stroke="#000" stroke-width="1.15" d="M653.3 759.4C655.5 760.6 658.6 760.7 661.9 758.8"/></g></svg></div>
<div class="t" style="left:1007.20px;top:339.57px">0.18<svg class="pc" width="22.66" height="20" viewBox="0 0 22.66 20"><g transform="translate(-644.40,19.00) scale(1,0.9524) translate(0,-776.60)"><path fill-rule="evenodd" d="M654.43 765.85A3.9 5.2 25 1 0 647.37 762.55A3.9 5.2 25 1 0 654.43 765.85ZM653.09 764.94A1.75 3.9 25 1 0 649.91 763.46A1.75 3.9 25 1 0 653.09 764.94ZM666.01 773.97A4.2 5.1 25 1 0 658.39 770.43A4.2 5.1 25 1 0 666.01 773.97ZM664.02 773.10A1.9 3.8 25 1 0 660.58 771.50A1.9 3.8 25 1 0 664.02 773.10Z"/><path d="M651.2 777.5L652.9 777.5L662.7 758.8L661.4 758.5Z"/><path fill="none" stroke="#000" stroke-width="1.15" d="M653.3 759.4C655.5 760.6 658.6 760.7 661.9 758.8"/></g></svg></div>
<div class="t" style="left:1125.10px;top:339.57px">0.49<svg class="pc" width="22.66" height="20" viewBox="0 0 22.66 20"><g transform="translate(-644.40,19.00) scale(1,0.9524) translate(0,-776.60)"><path fill-rule="evenodd" d="M654.43 765.85A3.9 5.2 25 1 0 647.37 762.55A3.9 5.2 25 1 0 654.43 765.85ZM653.09 764.94A1.75 3.9 25 1 0 649.91 763.46A1.75 3.9 25 1 0 653.09 764.94ZM666.01 773.97A4.2 5.1 25 1 0 658.39 770.43A4.2 5.1 25 1 0 666.01 773.97ZM664.02 773.10A1.9 3.8 25 1 0 660.58 771.50A1.9 3.8 25 1 0 664.02 773.10Z"/><path d="M651.2 777.5L652.9 777.5L662.7 758.8L661.4 758.5Z"/><path fill="none" stroke="#000" stroke-width="1.15" d="M653.3 759.4C655.5 760.6 658.6 760.7 661.9 758.8"/></g></svg></div>
<div class="t" style="left:238.80px;top:391.34px">File-sharing</div>
<div class="t" style="left:516.25px;top:391.34px">2.50<svg class="pc" width="22.66" height="20" viewBox="0 0 22.66 20"><g transform="translate(-644.40,19.00) scale(1,0.9524) translate(0,-776.60)"><path fill-rule="evenodd" d="M654.43 765.85A3.9 5.2 25 1 0 647.37 762.55A3.9 5.2 25 1 0 654.43 765.85ZM653.09 764.94A1.75 3.9 25 1 0 649.91 763.46A1.75 3.9 25 1 0 653.09 764.94ZM666.01 773.97A4.2 5.1 25 1 0 658.39 770.43A4.2 5.1 25 1 0 666.01 773.97ZM664.02 773.10A1.9 3.8 25 1 0 660.58 771.50A1.9 3.8 25 1 0 664.02 773.10Z"/><path d="M651.2 777.5L652.9 777.5L662.7 758.8L661.4 758.5Z"/><path fill="none" stroke="#000" stroke-width="1.15" d="M653.3 759.4C655.5 760.6 658.6 760.7 661.9 758.8"/></g></svg></div>
<div class="t" style="left:625.50px;top:391.34px">28.57<svg class="pc" width="22.66" height="20" viewBox="0 0 22.66 20"><g transform="translate(-644.40,19.00) scale(1,0.9524) translate(0,-776.60)"><path fill-rule="evenodd" d="M654.43 765.85A3.9 5.2 25 1 0 647.37 762.55A3.9 5.2 25 1 0 654.43 765.85ZM653.09 764.94A1.75 3.9 25 1 0 649.91 763.46A1.75 3.9 25 1 0 653.09 764.94ZM666.01 773.97A4.2 5.1 25 1 0 658.39 770.43A4.2 5.1 25 1 0 666.01 773.97ZM664.02 773.10A1.9 3.8 25 1 0 660.58 771.50A1.9 3.8 25 1 0 664.02 773.10Z"/><path d="M651.2 777.5L652.9 777.5L662.7 758.8L661.4 758.5Z"/><path fill="none" stroke="#000" stroke-width="1.15" d="M653.3 759.4C655.5 760.6 658.6 760.7 661.9 758.8"/></g></svg></div>
<div class="t" style="left:755.35px;top:391.34px">0.95<svg class="pc" width="22.66" height="20" viewBox="0 0 22.66 20"><g transform="translate(-644.40,19.00) scale(1,0.9524) translate(0,-776.60)"><path fill-rule="evenodd" d="M654.43 765.85A3.9 5.2 25 1 0 647.37 762.55A3.9 5.2 25 1 0 654.43 765.85ZM653.09 764.94A1.75 3.9 25 1 0 649.91 763.46A1.75 3.9 25 1 0 653.09 764.94ZM666.01 773.97A4.2 5.1 25 1 0 658.39 770.43A4.2 5.1 25 1 0 666.01 773.97ZM664.02 773.10A1.9 3.8 25 1 0 660.58 771.50A1.9 3.8 25 1 0 664.02 773.10Z"/><path d="M651.2 777.5L652.9 777.5L662.7 758.8L661.4 758.5Z"/><path fill="none" stroke="#000" stroke-width="1.15" d="M653.3 759.4C655.5 760.6 658.6 760.7 661.9 758.8"/></g></svg></div>
<div class="t" style="left:885.40px;top:391.34px">35.64<svg class="pc" width="22.66" height="20" viewBox="0 0 22.66 20"><g transform="translate(-644.40,19.00) scale(1,0.9524) translate(0,-776.60)"><path fill-rule="evenodd" d="M654.43 765.85A3.9 5.2 25 1 0 647.37 762.55A3.9 5.2 25 1 0 654.43 765.85ZM653.09 764.94A1.75 3.9 25 1 0 649.91 763.46A1.75 3.9 25 1 0 653.09 764.94ZM666.01 773.97A4.2 5.1 25 1 0 658.39 770.43A4.2 5.1 25 1 0 666.01 773.97ZM664.02 773.10A1.9 3.8 25 1 0 660.58 771.50A1.9 3.8 25 1 0 664.02 773.10Z"/><path d="M651.2 777.5L652.9 777.5L662.7 758.8L661.4 758.5Z"/><path fill="none" stroke="#000" stroke-width="1.15" d="M653.3 759.4C655.5 760.6 658.6 760.7 661.9 758.8"/></g></svg></div>
<div class="t" style="left:1007.20px;top:391.34px">1.03<svg class="pc" width="22.66" height="20" viewBox="0 0 22.66 20"><g transform="translate(-644.40,19.00) scale(1,0.9524) translate(0,-776.60)"><path fill-rule="evenodd" d="M654.43 765.85A3.9 5.2 25 1 0 647.37 762.55A3.9 5.2 25 1 0 654.43 765.85ZM653.09 764.94A1.75 3.9 25 1 0 649.91 763.46A1.75 3.9 25 1 0 653.09 764.94ZM666.01 773.97A4.2 5.1 25 1 0 658.39 770.43A4.2 5.1 25 1 0 666.01 773.97ZM664.02 773.10A1.9 3.8 25 1 0 660.58 771.50A1.9 3.8 25 1 0 664.02 773.10Z"/><path d="M651.2 777.5L652.9 777.5L662.7 758.8L661.4 758.5Z"/><path fill="none" stroke="#000" stroke-width="1.15" d="M653.3 759.4C655.5 760.6 658.6 760.7 661.9 758.8"/></g></svg></div>
<div class="t" style="left:1125.10px;top:391.34px">0.00<svg class="pc" width="22.66" height="20" viewBox="0 0 22.66 20"><g transform="translate(-644.40,19.00) scale(1,0.9524) translate(0,-776.60)"><path fill-rule="evenodd" d="M654.43 765.85A3.9 5.2 25 1 0 647.37 762.55A3.9 5.2 25 1 0 654.43 765.85ZM653.09 764.94A1.75 3.9 25 1 0 649.91 763.46A1.75 3.9 25 1 0 653.09 764.94ZM666.01 773.97A4.2 5.1 25 1 0 658.39 770.43A4.2 5.1 25 1 0 666.01 773.97ZM664.02 773.10A1.9 3.8 25 1 0 660.58 771.50A1.9 3.8 25 1 0 664.02 773.10Z"/><path d="M651.2 777.5L652.9 777.5L662.7 758.8L661.4 758.5Z"/><path fill="none" stroke="#000" stroke-width="1.15" d="M653.3 759.4C655.5 760.6 658.6 760.7 661.9 758.8"/></g></svg></div>
<div class="t" style="left:238.80px;top:443.20px">Gambling</div>
<div class="t" style="left:516.25px;top:443.20px">2.60<svg class="pc" width="22.66" height="20" viewBox="0 0 22.66 20"><g transform="translate(-644.40,19.00) scale(1,0.9524) translate(0,-776.60)"><path fill-rule="evenodd" d="M654.43 765.85A3.9 5.2 25 1 0 647.37 762.55A3.9 5.2 25 1 0 654.43 765.85ZM653.09 764.94A1.75 3.9 25 1 0 649.91 763.46A1.75 3.9 25 1 0 653.09 764.94ZM666.01 773.97A4.2 5.1 25 1 0 658.39 770.43A4.2 5.1 25 1 0 666.01 773.97ZM664.02 773.10A1.9 3.8 25 1 0 660.58 771.50A1.9 3.8 25 1 0 664.02 773.10Z"/><path d="M651.2 777.5L652.9 777.5L662.7 758.8L661.4 758.5Z"/><path fill="none" stroke="#000" stroke-width="1.15" d="M653.3 759.4C655.5 760.6 658.6 760.7 661.9 758.8"/></g></svg></div>
<div class="t" style="left:625.50px;top:443.20px">11.31<svg class="pc" width="22.66" height="20" viewBox="0 0 22.66 20"><g transform="translate(-644.40,19.00) scale(1,0.9524) translate(0,-776.60)"><path fill-rule="evenodd" d="M654.43 765.85A3.9 5.2 25 1 0 647.37 762.55A3.9 5.2 25 1 0 654.43 765.85ZM653.09 764.94A1.75 3.9 25 1 0 649.91 763.46A1.75 3.9 25 1 0 653.09 764.94ZM666.01 773.97A4.2 5.1 25 1 0 658.39 770.43A4.2 5.1 25 1 0 666.01 773.97ZM664.02 773.10A1.9 3.8 25 1 0 660.58 771.50A1.9 3.8 25 1 0 664.02 773.10Z"/><path d="M651.2 777.5L652.9 777.5L662.7 758.8L661.4 758.5Z"/><path fill="none" stroke="#000" stroke-width="1.15" d="M653.3 759.4C655.5 760.6 658.6 760.7 661.9 758.8"/></g></svg></div>
<div class="t" style="left:755.35px;top:443.20px">0.82<svg class="pc" width="22.66" height="20" viewBox="0 0 22.66 20"><g transform="translate(-644.40,19.00) scale(1,0.9524) translate(0,-776.60)"><path fill-rule="evenodd" d="M654.43 765.85A3.9 5.2 25 1 0 647.37 762.55A3.9 5.2 25 1 0 654.43 765.85ZM653.09 764.94A1.75 3.9 25 1 0 649.91 763.46A1.75 3.9 25 1 0 653.09 764.94ZM666.01 773.97A4.2 5.1 25 1 0 658.39 770.43A4.2 5.1 25 1 0 666.01 773.97ZM664.02 773.10A1.9 3.8 25 1 0 660.58 771.50A1.9 3.8 25 1 0 664.02 773.10Z"/><path d="M651.2 777.5L652.9 777.5L662.7 758.8L661.4 758.5Z"/><path fill="none" stroke="#000" stroke-width="1.15" d="M653.3 759.4C655.5 760.6 658.6 760.7 661.9 758.8"/></g></svg></div>
<div class="t" style="left:885.40px;top:443.20px">76.19<svg class="pc" width="22.66" height="20" viewBox="0 0 22.66 20"><g transform="translate(-644.40,19.00) scale(1,0.9524) translate(0,-776.60)"><path fill-rule="evenodd" d="M654.43 765.85A3.9 5.2 25 1 0 647.37 762.55A3.9 5.2 25 1 0 654.43 765.85ZM653.09 764.94A1.75 3.9 25 1 0 649.91 763.46A1.75 3.9 25 1 0 653.09 764.94ZM666.01 773.97A4.2 5.1 25 1 0 658.39 770.43A4.2 5.1 25 1 0 666.01 773.97ZM664.02 773.10A1.9 3.8 25 1 0 660.58 771.50A1.9 3.8 25 1 0 664.02 773.10Z"/><path d="M651.2 777.5L652.9 777.5L662.7 758.8L661.4 758.5Z"/><path fill="none" stroke="#000" stroke-width="1.15" d="M653.3 759.4C655.5 760.6 658.6 760.7 661.9 758.8"/></g></svg></div>
<div class="t" style="left:1007.20px;top:443.20px">5.47<svg class="pc" width="22.66" height="20" viewBox="0 0 22.66 20"><g transform="translate(-644.40,19.00) scale(1,0.9524) translate(0,-776.60)"><path fill-rule="evenodd" d="M654.43 765.85A3.9 5.2 25 1 0 647.37 762.55A3.9 5.2 25 1 0 654.43 765.85ZM653.09 764.94A1.75 3.9 25 1 0 649.91 763.46A1.75 3.9 25 1 0 653.09 764.94ZM666.01 773.97A4.2 5.1 25 1 0 658.39 770.43A4.2 5.1 25 1 0 666.01 773.97ZM664.02 773.10A1.9 3.8 25 1 0 660.58 771.50A1.9 3.8 25 1 0 664.02 773.10Z"/><path d="M651.2 777.5L652.9 777.5L662.7 758.8L661.4 758.5Z"/><path fill="none" stroke="#000" stroke-width="1.15" d="M653.3 759.4C655.5 760.6 658.6 760.7 661.9 758.8"/></g></svg></div>
<div class="t" style="left:1125.10px;top:443.20px">0.00<svg class="pc" width="22.66" height="20" viewBox="0 0 22.66 20"><g transform="translate(-644.40,19.00) scale(1,0.9524) translate(0,-776.60)"><path fill-rule="evenodd" d="M654.43 765.85A3.9 5.2 25 1 0 647.37 762.55A3.9 5.2 25 1 0 654.43 765.85ZM653.09 764.94A1.75 3.9 25 1 0 649.91 763.46A1.75 3.9 25 1 0 653.09 764.94ZM666.01 773.97A4.2 5.1 25 1 0 658.39 770.43A4.2 5.1 25 1 0 666.01 773.97ZM664.02 773.10A1.9 3.8 25 1 0 660.58 771.50A1.9 3.8 25 1 0 664.02 773.10Z"/><path d="M651.2 777.5L652.9 777.5L662.7 758.8L661.4 758.5Z"/><path fill="none" stroke="#000" stroke-width="1.15" d="M653.3 759.4C655.5 760.6 658.6 760.7 661.9 758.8"/></g></svg></div>
<div class="t" style="left:238.80px;top:495.06px">Gaming</div>
<div class="t" style="left:516.25px;top:495.06px">1.21<svg class="pc" width="22.66" height="20" viewBox="0 0 22.66 20"><g transform="translate(-644.40,19.00) scale(1,0.9524) translate(0,-776.60)"><path fill-rule="evenodd" d="M654.43 765.85A3.9 5.2 25 1 0 647.37 762.55A3.9 5.2 25 1 0 654.43 765.85ZM653.09 764.94A1.75 3.9 25 1 0 649.91 763.46A1.75 3.9 25 1 0 653.09 764.94ZM666.01 773.97A4.2 5.1 25 1 0 658.39 770.43A4.2 5.1 25 1 0 666.01 773.97ZM664.02 773.10A1.9 3.8 25 1 0 660.58 771.50A1.9 3.8 25 1 0 664.02 773.10Z"/><path d="M651.2 777.5L652.9 777.5L662.7 758.8L661.4 758.5Z"/><path fill="none" stroke="#000" stroke-width="1.15" d="M653.3 759.4C655.5 760.6 658.6 760.7 661.9 758.8"/></g></svg></div>
<div class="t" style="left:625.50px;top:495.06px">2.09<svg class="pc" width="22.66" height="20" viewBox="0 0 22.66 20"><g transform="translate(-644.40,19.00) scale(1,0.9524) translate(0,-776.60)"><path fill-rule="evenodd" d="M654.43 765.85A3.9 5.2 25 1 0 647.37 762.55A3.9 5.2 25 1 0 654.43 765.85ZM653.09 764.94A1.75 3.9 25 1 0 649.91 763.46A1.75 3.9 25 1 0 653.09 764.94ZM666.01 773.97A4.2 5.1 25 1 0 658.39 770.43A4.2 5.1 25 1 0 666.01 773.97ZM664.02 773.10A1.9 3.8 25 1 0 660.58 771.50A1.9 3.8 25 1 0 664.02 773.10Z"/><path d="M651.2 777.5L652.9 777.5L662.7 758.8L661.4 758.5Z"/><path fill="none" stroke="#000" stroke-width="1.15" d="M653.3 759.4C655.5 760.6 658.6 760.7 661.9 758.8"/></g></svg></div>
<div class="t" style="left:755.35px;top:495.06px">0.08<svg class="pc" width="22.66" height="20" viewBox="0 0 22.66 20"><g transform="translate(-644.40,19.00) scale(1,0.9524) translate(0,-776.60)"><path fill-rule="evenodd" d="M654.43 765.85A3.9 5.2 25 1 0 647.37 762.55A3.9 5.2 25 1 0 654.43 765.85ZM653.09 764.94A1.75 3.9 25 1 0 649.91 763.46A1.75 3.9 25 1 0 653.09 764.94ZM666.01 773.97A4.2 5.1 25 1 0 658.39 770.43A4.2 5.1 25 1 0 666.01 773.97ZM664.02 773.10A1.9 3.8 25 1 0 660.58 771.50A1.9 3.8 25 1 0 664.02 773.10Z"/><path d="M651.2 777.5L652.9 777.5L662.7 758.8L661.4 758.5Z"/><path fill="none" stroke="#000" stroke-width="1.15" d="M653.3 759.4C655.5 760.6 658.6 760.7 661.9 758.8"/></g></svg></div>
<div class="t" style="left:885.40px;top:495.06px">43.80<svg class="pc" width="22.66" height="20" viewBox="0 0 22.66 20"><g transform="translate(-644.40,19.00) scale(1,0.9524) translate(0,-776.60)"><path fill-rule="evenodd" d="M654.43 765.85A3.9 5.2 25 1 0 647.37 762.55A3.9 5.2 25 1 0 654.43 765.85ZM653.09 764.94A1.75 3.9 25 1 0 649.91 763.46A1.75 3.9 25 1 0 653.09 764.94ZM666.01 773.97A4.2 5.1 25 1 0 658.39 770.43A4.2 5.1 25 1 0 666.01 773.97ZM664.02 773.10A1.9 3.8 25 1 0 660.58 771.50A1.9 3.8 25 1 0 664.02 773.10Z"/><path d="M651.2 777.5L652.9 777.5L662.7 758.8L661.4 758.5Z"/><path fill="none" stroke="#000" stroke-width="1.15" d="M653.3 759.4C655.5 760.6 658.6 760.7 661.9 758.8"/></g></svg></div>
<div class="t" style="left:1007.20px;top:495.06px">0.25<svg class="pc" width="22.66" height="20" viewBox="0 0 22.66 20"><g transform="translate(-644.40,19.00) scale(1,0.9524) translate(0,-776.60)"><path fill-rule="evenodd" d="M654.43 765.85A3.9 5.2 25 1 0 647.37 762.55A3.9 5.2 25 1 0 654.43 765.85ZM653.09 764.94A1.75 3.9 25 1 0 649.91 763.46A1.75 3.9 25 1 0 653.09 764.94ZM666.01 773.97A4.2 5.1 25 1 0 658.39 770.43A4.2 5.1 25 1 0 666.01 773.97ZM664.02 773.10A1.9 3.8 25 1 0 660.58 771.50A1.9 3.8 25 1 0 664.02 773.10Z"/><path d="M651.2 777.5L652.9 777.5L662.7 758.8L661.4 758.5Z"/><path fill="none" stroke="#000" stroke-width="1.15" d="M653.3 759.4C655.5 760.6 658.6 760.7 661.9 758.8"/></g></svg></div>
<div class="t" style="left:1125.10px;top:495.06px">0.56<svg class="pc" width="22.66" height="20" viewBox="0 0 22.66 20"><g transform="translate(-644.40,19.00) scale(1,0.9524) translate(0,-776.60)"><path fill-rule="evenodd" d="M654.43 765.85A3.9 5.2 25 1 0 647.37 762.55A3.9 5.2 25 1 0 654.43 765.85ZM653.09 764.94A1.75 3.9 25 1 0 649.91 763.46A1.75 3.9 25 1 0 653.09 764.94ZM666.01 773.97A4.2 5.1 25 1 0 658.39 770.43A4.2 5.1 25 1 0 666.01 773.97ZM664.02 773.10A1.9 3.8 25 1 0 660.58 771.50A1.9 3.8 25 1 0 664.02 773.10Z"/><path d="M651.2 777.5L652.9 777.5L662.7 758.8L661.4 758.5Z"/><path fill="none" stroke="#000" stroke-width="1.15" d="M653.3 759.4C655.5 760.6 658.6 760.7 661.9 758.8"/></g></svg></div>
<div class="t" style="left:238.80px;top:546.87px">Hacking Tools</div>
<div class="t" style="left:516.25px;top:546.87px">1.08<svg class="pc" width="22.66" height="20" viewBox="0 0 22.66 20"><g transform="translate(-644.40,19.00) scale(1,0.9524) translate(0,-776.60)"><path fill-rule="evenodd" d="M654.43 765.85A3.9 5.2 25 1 0 647.37 762.55A3.9 5.2 25 1 0 654.43 765.85ZM653.09 764.94A1.75 3.9 25 1 0 649.91 763.46A1.75 3.9 25 1 0 653.09 764.94ZM666.01 773.97A4.2 5.1 25 1 0 658.39 770.43A4.2 5.1 25 1 0 666.01 773.97ZM664.02 773.10A1.9 3.8 25 1 0 660.58 771.50A1.9 3.8 25 1 0 664.02 773.10Z"/><path d="M651.2 777.5L652.9 777.5L662.7 758.8L661.4 758.5Z"/><path fill="none" stroke="#000" stroke-width="1.15" d="M653.3 759.4C655.5 760.6 658.6 760.7 661.9 758.8"/></g></svg></div>
<div class="t" style="left:625.50px;top:546.87px">1.48<svg class="pc" width="22.66" height="20" viewBox="0 0 22.66 20"><g transform="translate(-644.40,19.00) scale(1,0.9524) translate(0,-776.60)"><path fill-rule="evenodd" d="M654.43 765.85A3.9 5.2 25 1 0 647.37 762.55A3.9 5.2 25 1 0 654.43 765.85ZM653.09 764.94A1.75 3.9 25 1 0 649.91 763.46A1.75 3.9 25 1 0 653.09 764.94ZM666.01 773.97A4.2 5.1 25 1 0 658.39 770.43A4.2 5.1 25 1 0 666.01 773.97ZM664.02 773.10A1.9 3.8 25 1 0 660.58 771.50A1.9 3.8 25 1 0 664.02 773.10Z"/><path d="M651.2 777.5L652.9 777.5L662.7 758.8L661.4 758.5Z"/><path fill="none" stroke="#000" stroke-width="1.15" d="M653.3 759.4C655.5 760.6 658.6 760.7 661.9 758.8"/></g></svg></div>
<div class="t" style="left:755.35px;top:546.87px">0.43<svg class="pc" width="22.66" height="20" viewBox="0 0 22.66 20"><g transform="translate(-644.40,19.00) scale(1,0.9524) translate(0,-776.60)"><path fill-rule="evenodd" d="M654.43 765.85A3.9 5.2 25 1 0 647.37 762.55A3.9 5.2 25 1 0 654.43 765.85ZM653.09 764.94A1.75 3.9 25 1 0 649.91 763.46A1.75 3.9 25 1 0 653.09 764.94ZM666.01 773.97A4.2 5.1 25 1 0 658.39 770.43A4.2 5.1 25 1 0 666.01 773.97ZM664.02 773.10A1.9 3.8 25 1 0 660.58 771.50A1.9 3.8 25 1 0 664.02 773.10Z"/><path d="M651.2 777.5L652.9 777.5L662.7 758.8L661.4 758.5Z"/><path fill="none" stroke="#000" stroke-width="1.15" d="M653.3 759.4C655.5 760.6 658.6 760.7 661.9 758.8"/></g></svg></div>
<div class="t" style="left:885.40px;top:546.87px">47.03<svg class="pc" width="22.66" height="20" viewBox="0 0 22.66 20"><g transform="translate(-644.40,19.00) scale(1,0.9524) translate(0,-776.60)"><path fill-rule="evenodd" d="M654.43 765.85A3.9 5.2 25 1 0 647.37 762.55A3.9 5.2 25 1 0 654.43 765.85ZM653.09 764.94A1.75 3.9 25 1 0 649.91 763.46A1.75 3.9 25 1 0 653.09 764.94ZM666.01 773.97A4.2 5.1 25 1 0 658.39 770.43A4.2 5.1 25 1 0 666.01 773.97ZM664.02 773.10A1.9 3.8 25 1 0 660.58 771.50A1.9 3.8 25 1 0 664.02 773.10Z"/><path d="M651.2 777.5L652.9 777.5L662.7 758.8L661.4 758.5Z"/><path fill="none" stroke="#000" stroke-width="1.15" d="M653.3 759.4C655.5 760.6 658.6 760.7 661.9 758.8"/></g></svg></div>
<div class="t" style="left:1007.20px;top:546.87px">2.78<svg class="pc" width="22.66" height="20" viewBox="0 0 22.66 20"><g transform="translate(-644.40,19.00) scale(1,0.9524) translate(0,-776.60)"><path fill-rule="evenodd" d="M654.43 765.85A3.9 5.2 25 1 0 647.37 762.55A3.9 5.2 25 1 0 654.43 765.85ZM653.09 764.94A1.75 3.9 25 1 0 649.91 763.46A1.75 3.9 25 1 0 653.09 764.94ZM666.01 773.97A4.2 5.1 25 1 0 658.39 770.43A4.2 5.1 25 1 0 666.01 773.97ZM664.02 773.10A1.9 3.8 25 1 0 660.58 771.50A1.9 3.8 25 1 0 664.02 773.10Z"/><path d="M651.2 777.5L652.9 777.5L662.7 758.8L661.4 758.5Z"/><path fill="none" stroke="#000" stroke-width="1.15" d="M653.3 759.4C655.5 760.6 658.6 760.7 661.9 758.8"/></g></svg></div>
<div class="t" style="left:1125.10px;top:546.87px">0.15<svg class="pc" width="22.66" height="20" viewBox="0 0 22.66 20"><g transform="translate(-644.40,19.00) scale(1,0.9524) translate(0,-776.60)"><path fill-rule="evenodd" d="M654.43 765.85A3.9 5.2 25 1 0 647.37 762.55A3.9 5.2 25 1 0 654.43 765.85ZM653.09 764.94A1.75 3.9 25 1 0 649.91 763.46A1.75 3.9 25 1 0 653.09 764.94ZM666.01 773.97A4.2 5.1 25 1 0 658.39 770.43A4.2 5.1 25 1 0 666.01 773.97ZM664.02 773.10A1.9 3.8 25 1 0 660.58 771.50A1.9 3.8 25 1 0 664.02 773.10Z"/><path d="M651.2 777.5L652.9 777.5L662.7 758.8L661.4 758.5Z"/><path fill="none" stroke="#000" stroke-width="1.15" d="M653.3 759.4C655.5 760.6 658.6 760.7 661.9 758.8"/></g></svg></div>
<div class="t" style="left:238.80px;top:598.78px">Hate Speech</div>
<div class="t" style="left:516.25px;top:598.78px">0.66<svg class="pc" width="22.66" height="20" viewBox="0 0 22.66 20"><g transform="translate(-644.40,19.00) scale(1,0.9524) translate(0,-776.60)"><path fill-rule="evenodd" d="M654.43 765.85A3.9 5.2 25 1 0 647.37 762.55A3.9 5.2 25 1 0 654.43 765.85ZM653.09 764.94A1.75 3.9 25 1 0 649.91 763.46A1.75 3.9 25 1 0 653.09 764.94ZM666.01 773.97A4.2 5.1 25 1 0 658.39 770.43A4.2 5.1 25 1 0 666.01 773.97ZM664.02 773.10A1.9 3.8 25 1 0 660.58 771.50A1.9 3.8 25 1 0 664.02 773.10Z"/><path d="M651.2 777.5L652.9 777.5L662.7 758.8L661.4 758.5Z"/><path fill="none" stroke="#000" stroke-width="1.15" d="M653.3 759.4C655.5 760.6 658.6 760.7 661.9 758.8"/></g></svg></div>
<div class="t" style="left:625.50px;top:598.78px">0.77<svg class="pc" width="22.66" height="20" viewBox="0 0 22.66 20"><g transform="translate(-644.40,19.00) scale(1,0.9524) translate(0,-776.60)"><path fill-rule="evenodd" d="M654.43 765.85A3.9 5.2 25 1 0 647.37 762.55A3.9 5.2 25 1 0 654.43 765.85ZM653.09 764.94A1.75 3.9 25 1 0 649.91 763.46A1.75 3.9 25 1 0 653.09 764.94ZM666.01 773.97A4.2 5.1 25 1 0 658.39 770.43A4.2 5.1 25 1 0 666.01 773.97ZM664.02 773.10A1.9 3.8 25 1 0 660.58 771.50A1.9 3.8 25 1 0 664.02 773.10Z"/><path d="M651.2 777.5L652.9 777.5L662.7 758.8L661.4 758.5Z"/><path fill="none" stroke="#000" stroke-width="1.15" d="M653.3 759.4C655.5 760.6 658.6 760.7 661.9 758.8"/></g></svg></div>
<div class="t" style="left:755.35px;top:598.78px">0.00<svg class="pc" width="22.66" height="20" viewBox="0 0 22.66 20"><g transform="translate(-644.40,19.00) scale(1,0.9524) translate(0,-776.60)"><path fill-rule="evenodd" d="M654.43 765.85A3.9 5.2 25 1 0 647.37 762.55A3.9 5.2 25 1 0 654.43 765.85ZM653.09 764.94A1.75 3.9 25 1 0 649.91 763.46A1.75 3.9 25 1 0 653.09 764.94ZM666.01 773.97A4.2 5.1 25 1 0 658.39 770.43A4.2 5.1 25 1 0 666.01 773.97ZM664.02 773.10A1.9 3.8 25 1 0 660.58 771.50A1.9 3.8 25 1 0 664.02 773.10Z"/><path d="M651.2 777.5L652.9 777.5L662.7 758.8L661.4 758.5Z"/><path fill="none" stroke="#000" stroke-width="1.15" d="M653.3 759.4C655.5 760.6 658.6 760.7 661.9 758.8"/></g></svg></div>
<div class="t" style="left:885.40px;top:598.78px">50.00<svg class="pc" width="22.66" height="20" viewBox="0 0 22.66 20"><g transform="translate(-644.40,19.00) scale(1,0.9524) translate(0,-776.60)"><path fill-rule="evenodd" d="M654.43 765.85A3.9 5.2 25 1 0 647.37 762.55A3.9 5.2 25 1 0 654.43 765.85ZM653.09 764.94A1.75 3.9 25 1 0 649.91 763.46A1.75 3.9 25 1 0 653.09 764.94ZM666.01 773.97A4.2 5.1 25 1 0 658.39 770.43A4.2 5.1 25 1 0 666.01 773.97ZM664.02 773.10A1.9 3.8 25 1 0 660.58 771.50A1.9 3.8 25 1 0 664.02 773.10Z"/><path d="M651.2 777.5L652.9 777.5L662.7 758.8L661.4 758.5Z"/><path fill="none" stroke="#000" stroke-width="1.15" d="M653.3 759.4C655.5 760.6 658.6 760.7 661.9 758.8"/></g></svg></div>
<div class="t" style="left:1007.20px;top:598.78px">0.00<svg class="pc" width="22.66" height="20" viewBox="0 0 22.66 20"><g transform="translate(-644.40,19.00) scale(1,0.9524) translate(0,-776.60)"><path fill-rule="evenodd" d="M654.43 765.85A3.9 5.2 25 1 0 647.37 762.55A3.9 5.2 25 1 0 654.43 765.85ZM653.09 764.94A1.75 3.9 25 1 0 649.91 763.46A1.75 3.9 25 1 0 653.09 764.94ZM666.01 773.97A4.2 5.1 25 1 0 658.39 770.43A4.2 5.1 25 1 0 666.01 773.97ZM664.02 773.10A1.9 3.8 25 1 0 660.58 771.50A1.9 3.8 25 1 0 664.02 773.10Z"/><path d="M651.2 777.5L652.9 777.5L662.7 758.8L661.4 758.5Z"/><path fill="none" stroke="#000" stroke-width="1.15" d="M653.3 759.4C655.5 760.6 658.6 760.7 661.9 758.8"/></g></svg></div>
<div class="t" style="left:1125.10px;top:598.78px">0.00<svg class="pc" width="22.66" height="20" viewBox="0 0 22.66 20"><g transform="translate(-644.40,19.00) scale(1,0.9524) translate(0,-776.60)"><path fill-rule="evenodd" d="M654.43 765.85A3.9 5.2 25 1 0 647.37 762.55A3.9 5.2 25 1 0 654.43 765.85ZM653.09 764.94A1.75 3.9 25 1 0 649.91 763.46A1.75 3.9 25 1 0 653.09 764.94ZM666.01 773.97A4.2 5.1 25 1 0 658.39 770.43A4.2 5.1 25 1 0 666.01 773.97ZM664.02 773.10A1.9 3.8 25 1 0 660.58 771.50A1.9 3.8 25 1 0 664.02 773.10Z"/><path d="M651.2 777.5L652.9 777.5L662.7 758.8L661.4 758.5Z"/><path fill="none" stroke="#000" stroke-width="1.15" d="M653.3 759.4C655.5 760.6 658.6 760.7 661.9 758.8"/></g></svg></div>
<div class="t" style="left:238.80px;top:650.82px">History arts and literature</div>
<div class="t" style="left:516.25px;top:650.82px">0.34<svg class="pc" width="22.66" height="20" viewBox="0 0 22.66 20"><g transform="translate(-644.40,19.00) scale(1,0.9524) translate(0,-776.60)"><path fill-rule="evenodd" d="M654.43 765.85A3.9 5.2 25 1 0 647.37 762.55A3.9 5.2 25 1 0 654.43 765.85ZM653.09 764.94A1.75 3.9 25 1 0 649.91 763.46A1.75 3.9 25 1 0 653.09 764.94ZM666.01 773.97A4.2 5.1 25 1 0 658.39 770.43A4.2 5.1 25 1 0 666.01 773.97ZM664.02 773.10A1.9 3.8 25 1 0 660.58 771.50A1.9 3.8 25 1 0 664.02 773.10Z"/><path d="M651.2 777.5L652.9 777.5L662.7 758.8L661.4 758.5Z"/><path fill="none" stroke="#000" stroke-width="1.15" d="M653.3 759.4C655.5 760.6 658.6 760.7 661.9 758.8"/></g></svg></div>
<div class="t" style="left:625.50px;top:650.82px">1.19<svg class="pc" width="22.66" height="20" viewBox="0 0 22.66 20"><g transform="translate(-644.40,19.00) scale(1,0.9524) translate(0,-776.60)"><path fill-rule="evenodd" d="M654.43 765.85A3.9 5.2 25 1 0 647.37 762.55A3.9 5.2 25 1 0 654.43 765.85ZM653.09 764.94A1.75 3.9 25 1 0 649.91 763.46A1.75 3.9 25 1 0 653.09 764.94ZM666.01 773.97A4.2 5.1 25 1 0 658.39 770.43A4.2 5.1 25 1 0 666.01 773.97ZM664.02 773.10A1.9 3.8 25 1 0 660.58 771.50A1.9 3.8 25 1 0 664.02 773.10Z"/><path d="M651.2 777.5L652.9 777.5L662.7 758.8L661.4 758.5Z"/><path fill="none" stroke="#000" stroke-width="1.15" d="M653.3 759.4C655.5 760.6 658.6 760.7 661.9 758.8"/></g></svg></div>
<div class="t" style="left:755.35px;top:650.82px">0.18<svg class="pc" width="22.66" height="20" viewBox="0 0 22.66 20"><g transform="translate(-644.40,19.00) scale(1,0.9524) translate(0,-776.60)"><path fill-rule="evenodd" d="M654.43 765.85A3.9 5.2 25 1 0 647.37 762.55A3.9 5.2 25 1 0 654.43 765.85ZM653.09 764.94A1.75 3.9 25 1 0 649.91 763.46A1.75 3.9 25 1 0 653.09 764.94ZM666.01 773.97A4.2 5.1 25 1 0 658.39 770.43A4.2 5.1 25 1 0 666.01 773.97ZM664.02 773.10A1.9 3.8 25 1 0 660.58 771.50A1.9 3.8 25 1 0 664.02 773.10Z"/><path d="M651.2 777.5L652.9 777.5L662.7 758.8L661.4 758.5Z"/><path fill="none" stroke="#000" stroke-width="1.15" d="M653.3 759.4C655.5 760.6 658.6 760.7 661.9 758.8"/></g></svg></div>
<div class="t" style="left:885.40px;top:650.82px">75.00<svg class="pc" width="22.66" height="20" viewBox="0 0 22.66 20"><g transform="translate(-644.40,19.00) scale(1,0.9524) translate(0,-776.60)"><path fill-rule="evenodd" d="M654.43 765.85A3.9 5.2 25 1 0 647.37 762.55A3.9 5.2 25 1 0 654.43 765.85ZM653.09 764.94A1.75 3.9 25 1 0 649.91 763.46A1.75 3.9 25 1 0 653.09 764.94ZM666.01 773.97A4.2 5.1 25 1 0 658.39 770.43A4.2 5.1 25 1 0 666.01 773.97ZM664.02 773.10A1.9 3.8 25 1 0 660.58 771.50A1.9 3.8 25 1 0 664.02 773.10Z"/><path d="M651.2 777.5L652.9 777.5L662.7 758.8L661.4 758.5Z"/><path fill="none" stroke="#000" stroke-width="1.15" d="M653.3 759.4C655.5 760.6 658.6 760.7 661.9 758.8"/></g></svg></div>
<div class="t" style="left:1007.20px;top:650.82px">0.00<svg class="pc" width="22.66" height="20" viewBox="0 0 22.66 20"><g transform="translate(-644.40,19.00) scale(1,0.9524) translate(0,-776.60)"><path fill-rule="evenodd" d="M654.43 765.85A3.9 5.2 25 1 0 647.37 762.55A3.9 5.2 25 1 0 654.43 765.85ZM653.09 764.94A1.75 3.9 25 1 0 649.91 763.46A1.75 3.9 25 1 0 653.09 764.94ZM666.01 773.97A4.2 5.1 25 1 0 658.39 770.43A4.2 5.1 25 1 0 666.01 773.97ZM664.02 773.10A1.9 3.8 25 1 0 660.58 771.50A1.9 3.8 25 1 0 664.02 773.10Z"/><path d="M651.2 777.5L652.9 777.5L662.7 758.8L661.4 758.5Z"/><path fill="none" stroke="#000" stroke-width="1.15" d="M653.3 759.4C655.5 760.6 658.6 760.7 661.9 758.8"/></g></svg></div>
<div class="t" style="left:1125.10px;top:650.82px">0.00<svg class="pc" width="22.66" height="20" viewBox="0 0 22.66 20"><g transform="translate(-644.40,19.00) scale(1,0.9524) translate(0,-776.60)"><path fill-rule="evenodd" d="M654.43 765.85A3.9 5.2 25 1 0 647.37 762.55A3.9 5.2 25 1 0 654.43 765.85ZM653.09 764.94A1.75 3.9 25 1 0 649.91 763.46A1.75 3.9 25 1 0 653.09 764.94ZM666.01 773.97A4.2 5.1 25 1 0 658.39 770.43A4.2 5.1 25 1 0 666.01 773.97ZM664.02 773.10A1.9 3.8 25 1 0 660.58 771.50A1.9 3.8 25 1 0 664.02 773.10Z"/><path d="M651.2 777.5L652.9 777.5L662.7 758.8L661.4 758.5Z"/><path fill="none" stroke="#000" stroke-width="1.15" d="M653.3 759.4C655.5 760.6 658.6 760.7 661.9 758.8"/></g></svg></div>
<div class="t" style="left:238.80px;top:702.77px">Human Rights Issues</div>
<div class="t" style="left:516.25px;top:702.77px">1.98<svg class="pc" width="22.66" height="20" viewBox="0 0 22.66 20"><g transform="translate(-644.40,19.00) scale(1,0.9524) translate(0,-776.60)"><path fill-rule="evenodd" d="M654.43 765.85A3.9 5.2 25 1 0 647.37 762.55A3.9 5.2 25 1 0 654.43 765.85ZM653.09 764.94A1.75 3.9 25 1 0 649.91 763.46A1.75 3.9 25 1 0 653.09 764.94ZM666.01 773.97A4.2 5.1 25 1 0 658.39 770.43A4.2 5.1 25 1 0 666.01 773.97ZM664.02 773.10A1.9 3.8 25 1 0 660.58 771.50A1.9 3.8 25 1 0 664.02 773.10Z"/><path d="M651.2 777.5L652.9 777.5L662.7 758.8L661.4 758.5Z"/><path fill="none" stroke="#000" stroke-width="1.15" d="M653.3 759.4C655.5 760.6 658.6 760.7 661.9 758.8"/></g></svg></div>
<div class="t" style="left:625.50px;top:702.77px">34.06<svg class="pc" width="22.66" height="20" viewBox="0 0 22.66 20"><g transform="translate(-644.40,19.00) scale(1,0.9524) translate(0,-776.60)"><path fill-rule="evenodd" d="M654.43 765.85A3.9 5.2 25 1 0 647.37 762.55A3.9 5.2 25 1 0 654.43 765.85ZM653.09 764.94A1.75 3.9 25 1 0 649.91 763.46A1.75 3.9 25 1 0 653.09 764.94ZM666.01 773.97A4.2 5.1 25 1 0 658.39 770.43A4.2 5.1 25 1 0 666.01 773.97ZM664.02 773.10A1.9 3.8 25 1 0 660.58 771.50A1.9 3.8 25 1 0 664.02 773.10Z"/><path d="M651.2 777.5L652.9 777.5L662.7 758.8L661.4 758.5Z"/><path fill="none" stroke="#000" stroke-width="1.15" d="M653.3 759.4C655.5 760.6 658.6 760.7 661.9 758.8"/></g></svg></div>
<div class="t" style="left:755.35px;top:702.77px">0.10<svg class="pc" width="22.66" height="20" viewBox="0 0 22.66 20"><g transform="translate(-644.40,19.00) scale(1,0.9524) translate(0,-776.60)"><path fill-rule="evenodd" d="M654.43 765.85A3.9 5.2 25 1 0 647.37 762.55A3.9 5.2 25 1 0 654.43 765.85ZM653.09 764.94A1.75 3.9 25 1 0 649.91 763.46A1.75 3.9 25 1 0 653.09 764.94ZM666.01 773.97A4.2 5.1 25 1 0 658.39 770.43A4.2 5.1 25 1 0 666.01 773.97ZM664.02 773.10A1.9 3.8 25 1 0 660.58 771.50A1.9 3.8 25 1 0 664.02 773.10Z"/><path d="M651.2 777.5L652.9 777.5L662.7 758.8L661.4 758.5Z"/><path fill="none" stroke="#000" stroke-width="1.15" d="M653.3 759.4C655.5 760.6 658.6 760.7 661.9 758.8"/></g></svg></div>
<div class="t" style="left:885.40px;top:702.77px">49.32<svg class="pc" width="22.66" height="20" viewBox="0 0 22.66 20"><g transform="translate(-644.40,19.00) scale(1,0.9524) translate(0,-776.60)"><path fill-rule="evenodd" d="M654.43 765.85A3.9 5.2 25 1 0 647.37 762.55A3.9 5.2 25 1 0 654.43 765.85ZM653.09 764.94A1.75 3.9 25 1 0 649.91 763.46A1.75 3.9 25 1 0 653.09 764.94ZM666.01 773.97A4.2 5.1 25 1 0 658.39 770.43A4.2 5.1 25 1 0 666.01 773.97ZM664.02 773.10A1.9 3.8 25 1 0 660.58 771.50A1.9 3.8 25 1 0 664.02 773.10Z"/><path d="M651.2 777.5L652.9 777.5L662.7 758.8L661.4 758.5Z"/><path fill="none" stroke="#000" stroke-width="1.15" d="M653.3 759.4C655.5 760.6 658.6 760.7 661.9 758.8"/></g></svg></div>
<div class="t" style="left:1007.20px;top:702.77px">0.07<svg class="pc" width="22.66" height="20" viewBox="0 0 22.66 20"><g transform="translate(-644.40,19.00) scale(1,0.9524) translate(0,-776.60)"><path fill-rule="evenodd" d="M654.43 765.85A3.9 5.2 25 1 0 647.37 762.55A3.9 5.2 25 1 0 654.43 765.85ZM653.09 764.94A1.75 3.9 25 1 0 649.91 763.46A1.75 3.9 25 1 0 653.09 764.94ZM666.01 773.97A4.2 5.1 25 1 0 658.39 770.43A4.2 5.1 25 1 0 666.01 773.97ZM664.02 773.10A1.9 3.8 25 1 0 660.58 771.50A1.9 3.8 25 1 0 664.02 773.10Z"/><path d="M651.2 777.5L652.9 777.5L662.7 758.8L661.4 758.5Z"/><path fill="none" stroke="#000" stroke-width="1.15" d="M653.3 759.4C655.5 760.6 658.6 760.7 661.9 758.8"/></g></svg></div>
<div class="t" style="left:1125.10px;top:702.77px">0.54<svg class="pc" width="22.66" height="20" viewBox="0 0 22.66 20"><g transform="translate(-644.40,19.00) scale(1,0.9524) translate(0,-776.60)"><path fill-rule="evenodd" d="M654.43 765.85A3.9 5.2 25 1 0 647.37 762.55A3.9 5.2 25 1 0 654.43 765.85ZM653.09 764.94A1.75 3.9 25 1 0 649.91 763.46A1.75 3.9 25 1 0 653.09 764.94ZM666.01 773.97A4.2 5.1 25 1 0 658.39 770.43A4.2 5.1 25 1 0 666.01 773.97ZM664.02 773.10A1.9 3.8 25 1 0 660.58 771.50A1.9 3.8 25 1 0 664.02 773.10Z"/><path d="M651.2 777.5L652.9 777.5L662.7 758.8L661.4 758.5Z"/><path fill="none" stroke="#000" stroke-width="1.15" d="M653.3 759.4C655.5 760.6 658.6 760.7 661.9 758.8"/></g></svg></div>
<div class="t" style="left:238.80px;top:754.36px">LGBT</div>
<div class="t" style="left:516.25px;top:754.36px">1.02<svg class="pc" width="22.66" height="20" viewBox="0 0 22.66 20"><g transform="translate(-644.40,19.00) scale(1,0.9524) translate(0,-776.60)"><path fill-rule="evenodd" d="M654.43 765.85A3.9 5.2 25 1 0 647.37 762.55A3.9 5.2 25 1 0 654.43 765.85ZM653.09 764.94A1.75 3.9 25 1 0 649.91 763.46A1.75 3.9 25 1 0 653.09 764.94ZM666.01 773.97A4.2 5.1 25 1 0 658.39 770.43A4.2 5.1 25 1 0 666.01 773.97ZM664.02 773.10A1.9 3.8 25 1 0 660.58 771.50A1.9 3.8 25 1 0 664.02 773.10Z"/><path d="M651.2 777.5L652.9 777.5L662.7 758.8L661.4 758.5Z"/><path fill="none" stroke="#000" stroke-width="1.15" d="M653.3 759.4C655.5 760.6 658.6 760.7 661.9 758.8"/></g></svg></div>
<div class="t" style="left:625.50px;top:754.36px">11.92<svg class="pc" width="22.66" height="20" viewBox="0 0 22.66 20"><g transform="translate(-644.40,19.00) scale(1,0.9524) translate(0,-776.60)"><path fill-rule="evenodd" d="M654.43 765.85A3.9 5.2 25 1 0 647.37 762.55A3.9 5.2 25 1 0 654.43 765.85ZM653.09 764.94A1.75 3.9 25 1 0 649.91 763.46A1.75 3.9 25 1 0 653.09 764.94ZM666.01 773.97A4.2 5.1 25 1 0 658.39 770.43A4.2 5.1 25 1 0 666.01 773.97ZM664.02 773.10A1.9 3.8 25 1 0 660.58 771.50A1.9 3.8 25 1 0 664.02 773.10Z"/><path d="M651.2 777.5L652.9 777.5L662.7 758.8L661.4 758.5Z"/><path fill="none" stroke="#000" stroke-width="1.15" d="M653.3 759.4C655.5 760.6 658.6 760.7 661.9 758.8"/></g></svg></div>
<div class="t" style="left:755.35px;top:754.36px">0.11<svg class="pc" width="22.66" height="20" viewBox="0 0 22.66 20"><g transform="translate(-644.40,19.00) scale(1,0.9524) translate(0,-776.60)"><path fill-rule="evenodd" d="M654.43 765.85A3.9 5.2 25 1 0 647.37 762.55A3.9 5.2 25 1 0 654.43 765.85ZM653.09 764.94A1.75 3.9 25 1 0 649.91 763.46A1.75 3.9 25 1 0 653.09 764.94ZM666.01 773.97A4.2 5.1 25 1 0 658.39 770.43A4.2 5.1 25 1 0 666.01 773.97ZM664.02 773.10A1.9 3.8 25 1 0 660.58 771.50A1.9 3.8 25 1 0 664.02 773.10Z"/><path d="M651.2 777.5L652.9 777.5L662.7 758.8L661.4 758.5Z"/><path fill="none" stroke="#000" stroke-width="1.15" d="M653.3 759.4C655.5 760.6 658.6 760.7 661.9 758.8"/></g></svg></div>
<div class="t" style="left:885.40px;top:754.36px">64.51<svg class="pc" width="22.66" height="20" viewBox="0 0 22.66 20"><g transform="translate(-644.40,19.00) scale(1,0.9524) translate(0,-776.60)"><path fill-rule="evenodd" d="M654.43 765.85A3.9 5.2 25 1 0 647.37 762.55A3.9 5.2 25 1 0 654.43 765.85ZM653.09 764.94A1.75 3.9 25 1 0 649.91 763.46A1.75 3.9 25 1 0 653.09 764.94ZM666.01 773.97A4.2 5.1 25 1 0 658.39 770.43A4.2 5.1 25 1 0 666.01 773.97ZM664.02 773.10A1.9 3.8 25 1 0 660.58 771.50A1.9 3.8 25 1 0 664.02 773.10Z"/><path d="M651.2 777.5L652.9 777.5L662.7 758.8L661.4 758.5Z"/><path fill="none" stroke="#000" stroke-width="1.15" d="M653.3 759.4C655.5 760.6 658.6 760.7 661.9 758.8"/></g></svg></div>
<div class="t" style="left:1007.20px;top:754.36px">0.37<svg class="pc" width="22.66" height="20" viewBox="0 0 22.66 20"><g transform="translate(-644.40,19.00) scale(1,0.9524) translate(0,-776.60)"><path fill-rule="evenodd" d="M654.43 765.85A3.9 5.2 25 1 0 647.37 762.55A3.9 5.2 25 1 0 654.43 765.85ZM653.09 764.94A1.75 3.9 25 1 0 649.91 763.46A1.75 3.9 25 1 0 653.09 764.94ZM666.01 773.97A4.2 5.1 25 1 0 658.39 770.43A4.2 5.1 25 1 0 666.01 773.97ZM664.02 773.10A1.9 3.8 25 1 0 660.58 771.50A1.9 3.8 25 1 0 664.02 773.10Z"/><path d="M651.2 777.5L652.9 777.5L662.7 758.8L661.4 758.5Z"/><path fill="none" stroke="#000" stroke-width="1.15" d="M653.3 759.4C655.5 760.6 658.6 760.7 661.9 758.8"/></g></svg></div>
<div class="t" style="left:1125.10px;top:754.36px">0.14<svg class="pc" width="22.66" height="20" viewBox="0 0 22.66 20"><g transform="translate(-644.40,19.00) scale(1,0.9524) translate(0,-776.60)"><path fill-rule="evenodd" d="M654.43 765.85A3.9 5.2 25 1 0 647.37 762.55A3.9 5.2 25 1 0 654.43 765.85ZM653.09 764.94A1.75 3.9 25 1 0 649.91 763.46A1.75 3.9 25 1 0 653.09 764.94ZM666.01 773.97A4.2 5.1 25 1 0 658.39 770.43A4.2 5.1 25 1 0 666.01 773.97ZM664.02 773.10A1.9 3.8 25 1 0 660.58 771.50A1.9 3.8 25 1 0 664.02 773.10Z"/><path d="M651.2 777.5L652.9 777.5L662.7 758.8L661.4 758.5Z"/><path fill="none" stroke="#000" stroke-width="1.15" d="M653.3 759.4C655.5 760.6 658.6 760.7 661.9 758.8"/></g></svg></div>
<div class="t" style="left:238.80px;top:806.22px">Media Sharing</div>
<div class="t" style="left:516.25px;top:806.22px">6.03<svg class="pc" width="22.66" height="20" viewBox="0 0 22.66 20"><g transform="translate(-644.40,19.00) scale(1,0.9524) translate(0,-776.60)"><path fill-rule="evenodd" d="M654.43 765.85A3.9 5.2 25 1 0 647.37 762.55A3.9 5.2 25 1 0 654.43 765.85ZM653.09 764.94A1.75 3.9 25 1 0 649.91 763.46A1.75 3.9 25 1 0 653.09 764.94ZM666.01 773.97A4.2 5.1 25 1 0 658.39 770.43A4.2 5.1 25 1 0 666.01 773.97ZM664.02 773.10A1.9 3.8 25 1 0 660.58 771.50A1.9 3.8 25 1 0 664.02 773.10Z"/><path d="M651.2 777.5L652.9 777.5L662.7 758.8L661.4 758.5Z"/><path fill="none" stroke="#000" stroke-width="1.15" d="M653.3 759.4C655.5 760.6 658.6 760.7 661.9 758.8"/></g></svg></div>
<div class="t" style="left:625.50px;top:806.22px">62.11<svg class="pc" width="22.66" height="20" viewBox="0 0 22.66 20"><g transform="translate(-644.40,19.00) scale(1,0.9524) translate(0,-776.60)"><path fill-rule="evenodd" d="M654.43 765.85A3.9 5.2 25 1 0 647.37 762.55A3.9 5.2 25 1 0 654.43 765.85ZM653.09 764.94A1.75 3.9 25 1 0 649.91 763.46A1.75 3.9 25 1 0 653.09 764.94ZM666.01 773.97A4.2 5.1 25 1 0 658.39 770.43A4.2 5.1 25 1 0 666.01 773.97ZM664.02 773.10A1.9 3.8 25 1 0 660.58 771.50A1.9 3.8 25 1 0 664.02 773.10Z"/><path d="M651.2 777.5L652.9 777.5L662.7 758.8L661.4 758.5Z"/><path fill="none" stroke="#000" stroke-width="1.15" d="M653.3 759.4C655.5 760.6 658.6 760.7 661.9 758.8"/></g></svg></div>
<div class="t" style="left:755.35px;top:806.22px">0.52<svg class="pc" width="22.66" height="20" viewBox="0 0 22.66 20"><g transform="translate(-644.40,19.00) scale(1,0.9524) translate(0,-776.60)"><path fill-rule="evenodd" d="M654.43 765.85A3.9 5.2 25 1 0 647.37 762.55A3.9 5.2 25 1 0 654.43 765.85ZM653.09 764.94A1.75 3.9 25 1 0 649.91 763.46A1.75 3.9 25 1 0 653.09 764.94ZM666.01 773.97A4.2 5.1 25 1 0 658.39 770.43A4.2 5.1 25 1 0 666.01 773.97ZM664.02 773.10A1.9 3.8 25 1 0 660.58 771.50A1.9 3.8 25 1 0 664.02 773.10Z"/><path d="M651.2 777.5L652.9 777.5L662.7 758.8L661.4 758.5Z"/><path fill="none" stroke="#000" stroke-width="1.15" d="M653.3 759.4C655.5 760.6 658.6 760.7 661.9 758.8"/></g></svg></div>
<div class="t" style="left:885.40px;top:806.22px">83.08<svg class="pc" width="22.66" height="20" viewBox="0 0 22.66 20"><g transform="translate(-644.40,19.00) scale(1,0.9524) translate(0,-776.60)"><path fill-rule="evenodd" d="M654.43 765.85A3.9 5.2 25 1 0 647.37 762.55A3.9 5.2 25 1 0 654.43 765.85ZM653.09 764.94A1.75 3.9 25 1 0 649.91 763.46A1.75 3.9 25 1 0 653.09 764.94ZM666.01 773.97A4.2 5.1 25 1 0 658.39 770.43A4.2 5.1 25 1 0 666.01 773.97ZM664.02 773.10A1.9 3.8 25 1 0 660.58 771.50A1.9 3.8 25 1 0 664.02 773.10Z"/><path d="M651.2 777.5L652.9 777.5L662.7 758.8L661.4 758.5Z"/><path fill="none" stroke="#000" stroke-width="1.15" d="M653.3 759.4C655.5 760.6 658.6 760.7 661.9 758.8"/></g></svg></div>
<div class="t" style="left:1007.20px;top:806.22px">1.11<svg class="pc" width="22.66" height="20" viewBox="0 0 22.66 20"><g transform="translate(-644.40,19.00) scale(1,0.9524) translate(0,-776.60)"><path fill-rule="evenodd" d="M654.43 765.85A3.9 5.2 25 1 0 647.37 762.55A3.9 5.2 25 1 0 654.43 765.85ZM653.09 764.94A1.75 3.9 25 1 0 649.91 763.46A1.75 3.9 25 1 0 653.09 764.94ZM666.01 773.97A4.2 5.1 25 1 0 658.39 770.43A4.2 5.1 25 1 0 666.01 773.97ZM664.02 773.10A1.9 3.8 25 1 0 660.58 771.50A1.9 3.8 25 1 0 664.02 773.10Z"/><path d="M651.2 777.5L652.9 777.5L662.7 758.8L661.4 758.5Z"/><path fill="none" stroke="#000" stroke-width="1.15" d="M653.3 759.4C655.5 760.6 658.6 760.7 661.9 758.8"/></g></svg></div>
<div class="t" style="left:1125.10px;top:806.22px">1.33<svg class="pc" width="22.66" height="20" viewBox="0 0 22.66 20"><g transform="translate(-644.40,19.00) scale(1,0.9524) translate(0,-776.60)"><path fill-rule="evenodd" d="M654.43 765.85A3.9 5.2 25 1 0 647.37 762.55A3.9 5.2 25 1 0 654.43 765.85ZM653.09 764.94A1.75 3.9 25 1 0 649.91 763.46A1.75 3.9 25 1 0 653.09 764.94ZM666.01 773.97A4.2 5.1 25 1 0 658.39 770.43A4.2 5.1 25 1 0 666.01 773.97ZM664.02 773.10A1.9 3.8 25 1 0 660.58 771.50A1.9 3.8 25 1 0 664.02 773.10Z"/><path d="M651.2 777.5L652.9 777.5L662.7 758.8L661.4 758.5Z"/><path fill="none" stroke="#000" stroke-width="1.15" d="M653.3 759.4C655.5 760.6 658.6 760.7 661.9 758.8"/></g></svg></div>
<div class="t" style="left:238.80px;top:858.02px">Miscellaneous content</div>
<div class="t" style="left:516.25px;top:858.02px">0.37<svg class="pc" width="22.66" height="20" viewBox="0 0 22.66 20"><g transform="translate(-644.40,19.00) scale(1,0.9524) translate(0,-776.60)"><path fill-rule="evenodd" d="M654.43 765.85A3.9 5.2 25 1 0 647.37 762.55A3.9 5.2 25 1 0 654.43 765.85ZM653.09 764.94A1.75 3.9 25 1 0 649.91 763.46A1.75 3.9 25 1 0 653.09 764.94ZM666.01 773.97A4.2 5.1 25 1 0 658.39 770.43A4.2 5.1 25 1 0 666.01 773.97ZM664.02 773.10A1.9 3.8 25 1 0 660.58 771.50A1.9 3.8 25 1 0 664.02 773.10Z"/><path d="M651.2 777.5L652.9 777.5L662.7 758.8L661.4 758.5Z"/><path fill="none" stroke="#000" stroke-width="1.15" d="M653.3 759.4C655.5 760.6 658.6 760.7 661.9 758.8"/></g></svg></div>
<div class="t" style="left:625.50px;top:858.02px">0.55<svg class="pc" width="22.66" height="20" viewBox="0 0 22.66 20"><g transform="translate(-644.40,19.00) scale(1,0.9524) translate(0,-776.60)"><path fill-rule="evenodd" d="M654.43 765.85A3.9 5.2 25 1 0 647.37 762.55A3.9 5.2 25 1 0 654.43 765.85ZM653.09 764.94A1.75 3.9 25 1 0 649.91 763.46A1.75 3.9 25 1 0 653.09 764.94ZM666.01 773.97A4.2 5.1 25 1 0 658.39 770.43A4.2 5.1 25 1 0 666.01 773.97ZM664.02 773.10A1.9 3.8 25 1 0 660.58 771.50A1.9 3.8 25 1 0 664.02 773.10Z"/><path d="M651.2 777.5L652.9 777.5L662.7 758.8L661.4 758.5Z"/><path fill="none" stroke="#000" stroke-width="1.15" d="M653.3 759.4C655.5 760.6 658.6 760.7 661.9 758.8"/></g></svg></div>
<div class="t" style="left:755.35px;top:858.02px">0.33<svg class="pc" width="22.66" height="20" viewBox="0 0 22.66 20"><g transform="translate(-644.40,19.00) scale(1,0.9524) translate(0,-776.60)"><path fill-rule="evenodd" d="M654.43 765.85A3.9 5.2 25 1 0 647.37 762.55A3.9 5.2 25 1 0 654.43 765.85ZM653.09 764.94A1.75 3.9 25 1 0 649.91 763.46A1.75 3.9 25 1 0 653.09 764.94ZM666.01 773.97A4.2 5.1 25 1 0 658.39 770.43A4.2 5.1 25 1 0 666.01 773.97ZM664.02 773.10A1.9 3.8 25 1 0 660.58 771.50A1.9 3.8 25 1 0 664.02 773.10Z"/><path d="M651.2 777.5L652.9 777.5L662.7 758.8L661.4 758.5Z"/><path fill="none" stroke="#000" stroke-width="1.15" d="M653.3 759.4C655.5 760.6 658.6 760.7 661.9 758.8"/></g></svg></div>
<div class="t" style="left:885.40px;top:858.02px">60.00<svg class="pc" width="22.66" height="20" viewBox="0 0 22.66 20"><g transform="translate(-644.40,19.00) scale(1,0.9524) translate(0,-776.60)"><path fill-rule="evenodd" d="M654.43 765.85A3.9 5.2 25 1 0 647.37 762.55A3.9 5.2 25 1 0 654.43 765.85ZM653.09 764.94A1.75 3.9 25 1 0 649.91 763.46A1.75 3.9 25 1 0 653.09 764.94ZM666.01 773.97A4.2 5.1 25 1 0 658.39 770.43A4.2 5.1 25 1 0 666.01 773.97ZM664.02 773.10A1.9 3.8 25 1 0 660.58 771.50A1.9 3.8 25 1 0 664.02 773.10Z"/><path d="M651.2 777.5L652.9 777.5L662.7 758.8L661.4 758.5Z"/><path fill="none" stroke="#000" stroke-width="1.15" d="M653.3 759.4C655.5 760.6 658.6 760.7 661.9 758.8"/></g></svg></div>
<div class="t" style="left:1007.20px;top:858.02px">1.71<svg class="pc" width="22.66" height="20" viewBox="0 0 22.66 20"><g transform="translate(-644.40,19.00) scale(1,0.9524) translate(0,-776.60)"><path fill-rule="evenodd" d="M654.43 765.85A3.9 5.2 25 1 0 647.37 762.55A3.9 5.2 25 1 0 654.43 765.85ZM653.09 764.94A1.75 3.9 25 1 0 649.91 763.46A1.75 3.9 25 1 0 653.09 764.94ZM666.01 773.97A4.2 5.1 25 1 0 658.39 770.43A4.2 5.1 25 1 0 666.01 773.97ZM664.02 773.10A1.9 3.8 25 1 0 660.58 771.50A1.9 3.8 25 1 0 664.02 773.10Z"/><path d="M651.2 777.5L652.9 777.5L662.7 758.8L661.4 758.5Z"/><path fill="none" stroke="#000" stroke-width="1.15" d="M653.3 759.4C655.5 760.6 658.6 760.7 661.9 758.8"/></g></svg></div>
<div class="t" style="left:1125.10px;top:858.02px">0.00<svg class="pc" width="22.66" height="20" viewBox="0 0 22.66 20"><g transform="translate(-644.40,19.00) scale(1,0.9524) translate(0,-776.60)"><path fill-rule="evenodd" d="M654.43 765.85A3.9 5.2 25 1 0 647.37 762.55A3.9 5.2 25 1 0 654.43 765.85ZM653.09 764.94A1.75 3.9 25 1 0 649.91 763.46A1.75 3.9 25 1 0 653.09 764.94ZM666.01 773.97A4.2 5.1 25 1 0 658.39 770.43A4.2 5.1 25 1 0 666.01 773.97ZM664.02 773.10A1.9 3.8 25 1 0 660.58 771.50A1.9 3.8 25 1 0 664.02 773.10Z"/><path d="M651.2 777.5L652.9 777.5L662.7 758.8L661.4 758.5Z"/><path fill="none" stroke="#000" stroke-width="1.15" d="M653.3 759.4C655.5 760.6 658.6 760.7 661.9 758.8"/></g></svg></div>
<div class="t" style="left:238.80px;top:909.94px">News Media</div>
<div class="t" style="left:516.25px;top:909.94px">4.31<svg class="pc" width="22.66" height="20" viewBox="0 0 22.66 20"><g transform="translate(-644.40,19.00) scale(1,0.9524) translate(0,-776.60)"><path fill-rule="evenodd" d="M654.43 765.85A3.9 5.2 25 1 0 647.37 762.55A3.9 5.2 25 1 0 654.43 765.85ZM653.09 764.94A1.75 3.9 25 1 0 649.91 763.46A1.75 3.9 25 1 0 653.09 764.94ZM666.01 773.97A4.2 5.1 25 1 0 658.39 770.43A4.2 5.1 25 1 0 666.01 773.97ZM664.02 773.10A1.9 3.8 25 1 0 660.58 771.50A1.9 3.8 25 1 0 664.02 773.10Z"/><path d="M651.2 777.5L652.9 777.5L662.7 758.8L661.4 758.5Z"/><path fill="none" stroke="#000" stroke-width="1.15" d="M653.3 759.4C655.5 760.6 658.6 760.7 661.9 758.8"/></g></svg></div>
<div class="t" style="left:625.50px;top:909.94px">63.41<svg class="pc" width="22.66" height="20" viewBox="0 0 22.66 20"><g transform="translate(-644.40,19.00) scale(1,0.9524) translate(0,-776.60)"><path fill-rule="evenodd" d="M654.43 765.85A3.9 5.2 25 1 0 647.37 762.55A3.9 5.2 25 1 0 654.43 765.85ZM653.09 764.94A1.75 3.9 25 1 0 649.91 763.46A1.75 3.9 25 1 0 653.09 764.94ZM666.01 773.97A4.2 5.1 25 1 0 658.39 770.43A4.2 5.1 25 1 0 666.01 773.97ZM664.02 773.10A1.9 3.8 25 1 0 660.58 771.50A1.9 3.8 25 1 0 664.02 773.10Z"/><path d="M651.2 777.5L652.9 777.5L662.7 758.8L661.4 758.5Z"/><path fill="none" stroke="#000" stroke-width="1.15" d="M653.3 759.4C655.5 760.6 658.6 760.7 661.9 758.8"/></g></svg></div>
<div class="t" style="left:755.35px;top:909.94px">0.15<svg class="pc" width="22.66" height="20" viewBox="0 0 22.66 20"><g transform="translate(-644.40,19.00) scale(1,0.9524) translate(0,-776.60)"><path fill-rule="evenodd" d="M654.43 765.85A3.9 5.2 25 1 0 647.37 762.55A3.9 5.2 25 1 0 654.43 765.85ZM653.09 764.94A1.75 3.9 25 1 0 649.91 763.46A1.75 3.9 25 1 0 653.09 764.94ZM666.01 773.97A4.2 5.1 25 1 0 658.39 770.43A4.2 5.1 25 1 0 666.01 773.97ZM664.02 773.10A1.9 3.8 25 1 0 660.58 771.50A1.9 3.8 25 1 0 664.02 773.10Z"/><path d="M651.2 777.5L652.9 777.5L662.7 758.8L661.4 758.5Z"/><path fill="none" stroke="#000" stroke-width="1.15" d="M653.3 759.4C655.5 760.6 658.6 760.7 661.9 758.8"/></g></svg></div>
<div class="t" style="left:885.40px;top:909.94px">63.65<svg class="pc" width="22.66" height="20" viewBox="0 0 22.66 20"><g transform="translate(-644.40,19.00) scale(1,0.9524) translate(0,-776.60)"><path fill-rule="evenodd" d="M654.43 765.85A3.9 5.2 25 1 0 647.37 762.55A3.9 5.2 25 1 0 654.43 765.85ZM653.09 764.94A1.75 3.9 25 1 0 649.91 763.46A1.75 3.9 25 1 0 653.09 764.94ZM666.01 773.97A4.2 5.1 25 1 0 658.39 770.43A4.2 5.1 25 1 0 666.01 773.97ZM664.02 773.10A1.9 3.8 25 1 0 660.58 771.50A1.9 3.8 25 1 0 664.02 773.10Z"/><path d="M651.2 777.5L652.9 777.5L662.7 758.8L661.4 758.5Z"/><path fill="none" stroke="#000" stroke-width="1.15" d="M653.3 759.4C655.5 760.6 658.6 760.7 661.9 758.8"/></g></svg></div>
<div class="t" style="left:1007.20px;top:909.94px">0.09<svg class="pc" width="22.66" height="20" viewBox="0 0 22.66 20"><g transform="translate(-644.40,19.00) scale(1,0.9524) translate(0,-776.60)"><path fill-rule="evenodd" d="M654.43 765.85A3.9 5.2 25 1 0 647.37 762.55A3.9 5.2 25 1 0 654.43 765.85ZM653.09 764.94A1.75 3.9 25 1 0 649.91 763.46A1.75 3.9 25 1 0 653.09 764.94ZM666.01 773.97A4.2 5.1 25 1 0 658.39 770.43A4.2 5.1 25 1 0 666.01 773.97ZM664.02 773.10A1.9 3.8 25 1 0 660.58 771.50A1.9 3.8 25 1 0 664.02 773.10Z"/><path d="M651.2 777.5L652.9 777.5L662.7 758.8L661.4 758.5Z"/><path fill="none" stroke="#000" stroke-width="1.15" d="M653.3 759.4C655.5 760.6 658.6 760.7 661.9 758.8"/></g></svg></div>
<div class="t" style="left:1125.10px;top:909.94px">0.73<svg class="pc" width="22.66" height="20" viewBox="0 0 22.66 20"><g transform="translate(-644.40,19.00) scale(1,0.9524) translate(0,-776.60)"><path fill-rule="evenodd" d="M654.43 765.85A3.9 5.2 25 1 0 647.37 762.55A3.9 5.2 25 1 0 654.43 765.85ZM653.09 764.94A1.75 3.9 25 1 0 649.91 763.46A1.75 3.9 25 1 0 653.09 764.94ZM666.01 773.97A4.2 5.1 25 1 0 658.39 770.43A4.2 5.1 25 1 0 666.01 773.97ZM664.02 773.10A1.9 3.8 25 1 0 660.58 771.50A1.9 3.8 25 1 0 664.02 773.10Z"/><path d="M651.2 777.5L652.9 777.5L662.7 758.8L661.4 758.5Z"/><path fill="none" stroke="#000" stroke-width="1.15" d="M653.3 759.4C655.5 760.6 658.6 760.7 661.9 758.8"/></g></svg></div>
<div class="t" style="left:238.80px;top:961.80px">Online Dating</div>
<div class="t" style="left:516.25px;top:961.80px">1.59<svg class="pc" width="22.66" height="20" viewBox="0 0 22.66 20"><g transform="translate(-644.40,19.00) scale(1,0.9524) translate(0,-776.60)"><path fill-rule="evenodd" d="M654.43 765.85A3.9 5.2 25 1 0 647.37 762.55A3.9 5.2 25 1 0 654.43 765.85ZM653.09 764.94A1.75 3.9 25 1 0 649.91 763.46A1.75 3.9 25 1 0 653.09 764.94ZM666.01 773.97A4.2 5.1 25 1 0 658.39 770.43A4.2 5.1 25 1 0 666.01 773.97ZM664.02 773.10A1.9 3.8 25 1 0 660.58 771.50A1.9 3.8 25 1 0 664.02 773.10Z"/><path d="M651.2 777.5L652.9 777.5L662.7 758.8L661.4 758.5Z"/><path fill="none" stroke="#000" stroke-width="1.15" d="M653.3 759.4C655.5 760.6 658.6 760.7 661.9 758.8"/></g></svg></div>
<div class="t" style="left:625.50px;top:961.80px">1.69<svg class="pc" width="22.66" height="20" viewBox="0 0 22.66 20"><g transform="translate(-644.40,19.00) scale(1,0.9524) translate(0,-776.60)"><path fill-rule="evenodd" d="M654.43 765.85A3.9 5.2 25 1 0 647.37 762.55A3.9 5.2 25 1 0 654.43 765.85ZM653.09 764.94A1.75 3.9 25 1 0 649.91 763.46A1.75 3.9 25 1 0 653.09 764.94ZM666.01 773.97A4.2 5.1 25 1 0 658.39 770.43A4.2 5.1 25 1 0 666.01 773.97ZM664.02 773.10A1.9 3.8 25 1 0 660.58 771.50A1.9 3.8 25 1 0 664.02 773.10Z"/><path d="M651.2 777.5L652.9 777.5L662.7 758.8L661.4 758.5Z"/><path fill="none" stroke="#000" stroke-width="1.15" d="M653.3 759.4C655.5 760.6 658.6 760.7 661.9 758.8"/></g></svg></div>
<div class="t" style="left:755.35px;top:961.80px">0.13<svg class="pc" width="22.66" height="20" viewBox="0 0 22.66 20"><g transform="translate(-644.40,19.00) scale(1,0.9524) translate(0,-776.60)"><path fill-rule="evenodd" d="M654.43 765.85A3.9 5.2 25 1 0 647.37 762.55A3.9 5.2 25 1 0 654.43 765.85ZM653.09 764.94A1.75 3.9 25 1 0 649.91 763.46A1.75 3.9 25 1 0 653.09 764.94ZM666.01 773.97A4.2 5.1 25 1 0 658.39 770.43A4.2 5.1 25 1 0 666.01 773.97ZM664.02 773.10A1.9 3.8 25 1 0 660.58 771.50A1.9 3.8 25 1 0 664.02 773.10Z"/><path d="M651.2 777.5L652.9 777.5L662.7 758.8L661.4 758.5Z"/><path fill="none" stroke="#000" stroke-width="1.15" d="M653.3 759.4C655.5 760.6 658.6 760.7 661.9 758.8"/></g></svg></div>
<div class="t" style="left:885.40px;top:961.80px">88.13<svg class="pc" width="22.66" height="20" viewBox="0 0 22.66 20"><g transform="translate(-644.40,19.00) scale(1,0.9524) translate(0,-776.60)"><path fill-rule="evenodd" d="M654.43 765.85A3.9 5.2 25 1 0 647.37 762.55A3.9 5.2 25 1 0 654.43 765.85ZM653.09 764.94A1.75 3.9 25 1 0 649.91 763.46A1.75 3.9 25 1 0 653.09 764.94ZM666.01 773.97A4.2 5.1 25 1 0 658.39 770.43A4.2 5.1 25 1 0 666.01 773.97ZM664.02 773.10A1.9 3.8 25 1 0 660.58 771.50A1.9 3.8 25 1 0 664.02 773.10Z"/><path d="M651.2 777.5L652.9 777.5L662.7 758.8L661.4 758.5Z"/><path fill="none" stroke="#000" stroke-width="1.15" d="M653.3 759.4C655.5 760.6 658.6 760.7 661.9 758.8"/></g></svg></div>
<div class="t" style="left:1007.20px;top:961.80px">0.81<svg class="pc" width="22.66" height="20" viewBox="0 0 22.66 20"><g transform="translate(-644.40,19.00) scale(1,0.9524) translate(0,-776.60)"><path fill-rule="evenodd" d="M654.43 765.85A3.9 5.2 25 1 0 647.37 762.55A3.9 5.2 25 1 0 654.43 765.85ZM653.09 764.94A1.75 3.9 25 1 0 649.91 763.46A1.75 3.9 25 1 0 653.09 764.94ZM666.01 773.97A4.2 5.1 25 1 0 658.39 770.43A4.2 5.1 25 1 0 666.01 773.97ZM664.02 773.10A1.9 3.8 25 1 0 660.58 771.50A1.9 3.8 25 1 0 664.02 773.10Z"/><path d="M651.2 777.5L652.9 777.5L662.7 758.8L661.4 758.5Z"/><path fill="none" stroke="#000" stroke-width="1.15" d="M653.3 759.4C655.5 760.6 658.6 760.7 661.9 758.8"/></g></svg></div>
<div class="t" style="left:1125.10px;top:961.80px">0.00<svg class="pc" width="22.66" height="20" viewBox="0 0 22.66 20"><g transform="translate(-644.40,19.00) scale(1,0.9524) translate(0,-776.60)"><path fill-rule="evenodd" d="M654.43 765.85A3.9 5.2 25 1 0 647.37 762.55A3.9 5.2 25 1 0 654.43 765.85ZM653.09 764.94A1.75 3.9 25 1 0 649.91 763.46A1.75 3.9 25 1 0 653.09 764.94ZM666.01 773.97A4.2 5.1 25 1 0 658.39 770.43A4.2 5.1 25 1 0 666.01 773.97ZM664.02 773.10A1.9 3.8 25 1 0 660.58 771.50A1.9 3.8 25 1 0 664.02 773.10Z"/><path d="M651.2 777.5L652.9 777.5L662.7 758.8L661.4 758.5Z"/><path fill="none" stroke="#000" stroke-width="1.15" d="M653.3 759.4C655.5 760.6 658.6 760.7 661.9 758.8"/></g></svg></div>
<div class="t" style="left:238.80px;top:1013.66px">Political Criticism</div>
<div class="t" style="left:516.25px;top:1013.66px">3.63<svg class="pc" width="22.66" height="20" viewBox="0 0 22.66 20"><g transform="translate(-644.40,19.00) scale(1,0.9524) translate(0,-776.60)"><path fill-rule="evenodd" d="M654.43 765.85A3.9 5.2 25 1 0 647.37 762.55A3.9 5.2 25 1 0 654.43 765.85ZM653.09 764.94A1.75 3.9 25 1 0 649.91 763.46A1.75 3.9 25 1 0 653.09 764.94ZM666.01 773.97A4.2 5.1 25 1 0 658.39 770.43A4.2 5.1 25 1 0 666.01 773.97ZM664.02 773.10A1.9 3.8 25 1 0 660.58 771.50A1.9 3.8 25 1 0 664.02 773.10Z"/><path d="M651.2 777.5L652.9 777.5L662.7 758.8L661.4 758.5Z"/><path fill="none" stroke="#000" stroke-width="1.15" d="M653.3 759.4C655.5 760.6 658.6 760.7 661.9 758.8"/></g></svg></div>
<div class="t" style="left:625.50px;top:1013.66px">54.41<svg class="pc" width="22.66" height="20" viewBox="0 0 22.66 20"><g transform="translate(-644.40,19.00) scale(1,0.9524) translate(0,-776.60)"><path fill-rule="evenodd" d="M654.43 765.85A3.9 5.2 25 1 0 647.37 762.55A3.9 5.2 25 1 0 654.43 765.85ZM653.09 764.94A1.75 3.9 25 1 0 649.91 763.46A1.75 3.9 25 1 0 653.09 764.94ZM666.01 773.97A4.2 5.1 25 1 0 658.39 770.43A4.2 5.1 25 1 0 666.01 773.97ZM664.02 773.10A1.9 3.8 25 1 0 660.58 771.50A1.9 3.8 25 1 0 664.02 773.10Z"/><path d="M651.2 777.5L652.9 777.5L662.7 758.8L661.4 758.5Z"/><path fill="none" stroke="#000" stroke-width="1.15" d="M653.3 759.4C655.5 760.6 658.6 760.7 661.9 758.8"/></g></svg></div>
<div class="t" style="left:755.35px;top:1013.66px">0.06<svg class="pc" width="22.66" height="20" viewBox="0 0 22.66 20"><g transform="translate(-644.40,19.00) scale(1,0.9524) translate(0,-776.60)"><path fill-rule="evenodd" d="M654.43 765.85A3.9 5.2 25 1 0 647.37 762.55A3.9 5.2 25 1 0 654.43 765.85ZM653.09 764.94A1.75 3.9 25 1 0 649.91 763.46A1.75 3.9 25 1 0 653.09 764.94ZM666.01 773.97A4.2 5.1 25 1 0 658.39 770.43A4.2 5.1 25 1 0 666.01 773.97ZM664.02 773.10A1.9 3.8 25 1 0 660.58 771.50A1.9 3.8 25 1 0 664.02 773.10Z"/><path d="M651.2 777.5L652.9 777.5L662.7 758.8L661.4 758.5Z"/><path fill="none" stroke="#000" stroke-width="1.15" d="M653.3 759.4C655.5 760.6 658.6 760.7 661.9 758.8"/></g></svg></div>
<div class="t" style="left:885.40px;top:1013.66px">40.00<svg class="pc" width="22.66" height="20" viewBox="0 0 22.66 20"><g transform="translate(-644.40,19.00) scale(1,0.9524) translate(0,-776.60)"><path fill-rule="evenodd" d="M654.43 765.85A3.9 5.2 25 1 0 647.37 762.55A3.9 5.2 25 1 0 654.43 765.85ZM653.09 764.94A1.75 3.9 25 1 0 649.91 763.46A1.75 3.9 25 1 0 653.09 764.94ZM666.01 773.97A4.2 5.1 25 1 0 658.39 770.43A4.2 5.1 25 1 0 666.01 773.97ZM664.02 773.10A1.9 3.8 25 1 0 660.58 771.50A1.9 3.8 25 1 0 664.02 773.10Z"/><path d="M651.2 777.5L652.9 777.5L662.7 758.8L661.4 758.5Z"/><path fill="none" stroke="#000" stroke-width="1.15" d="M653.3 759.4C655.5 760.6 658.6 760.7 661.9 758.8"/></g></svg></div>
<div class="t" style="left:1007.20px;top:1013.66px">0.04<svg class="pc" width="22.66" height="20" viewBox="0 0 22.66 20"><g transform="translate(-644.40,19.00) scale(1,0.9524) translate(0,-776.60)"><path fill-rule="evenodd" d="M654.43 765.85A3.9 5.2 25 1 0 647.37 762.55A3.9 5.2 25 1 0 654.43 765.85ZM653.09 764.94A1.75 3.9 25 1 0 649.91 763.46A1.75 3.9 25 1 0 653.09 764.94ZM666.01 773.97A4.2 5.1 25 1 0 658.39 770.43A4.2 5.1 25 1 0 666.01 773.97ZM664.02 773.10A1.9 3.8 25 1 0 660.58 771.50A1.9 3.8 25 1 0 664.02 773.10Z"/><path d="M651.2 777.5L652.9 777.5L662.7 758.8L661.4 758.5Z"/><path fill="none" stroke="#000" stroke-width="1.15" d="M653.3 759.4C655.5 760.6 658.6 760.7 661.9 758.8"/></g></svg></div>
<div class="t" style="left:1125.10px;top:1013.66px">0.00<svg class="pc" width="22.66" height="20" viewBox="0 0 22.66 20"><g transform="translate(-644.40,19.00) scale(1,0.9524) translate(0,-776.60)"><path fill-rule="evenodd" d="M654.43 765.85A3.9 5.2 25 1 0 647.37 762.55A3.9 5.2 25 1 0 654.43 765.85ZM653.09 764.94A1.75 3.9 25 1 0 649.91 763.46A1.75 3.9 25 1 0 653.09 764.94ZM666.01 773.97A4.2 5.1 25 1 0 658.39 770.43A4.2 5.1 25 1 0 666.01 773.97ZM664.02 773.10A1.9 3.8 25 1 0 660.58 771.50A1.9 3.8 25 1 0 664.02 773.10Z"/><path d="M651.2 777.5L652.9 777.5L662.7 758.8L661.4 758.5Z"/><path fill="none" stroke="#000" stroke-width="1.15" d="M653.3 759.4C655.5 760.6 658.6 760.7 661.9 758.8"/></g></svg></div>
<div class="t" style="left:238.80px;top:1065.57px">Pornography</div>
<div class="t" style="left:516.25px;top:1065.57px">6.82<svg class="pc" width="22.66" height="20" viewBox="0 0 22.66 20"><g transform="translate(-644.40,19.00) scale(1,0.9524) translate(0,-776.60)"><path fill-rule="evenodd" d="M654.43 765.85A3.9 5.2 25 1 0 647.37 762.55A3.9 5.2 25 1 0 654.43 765.85ZM653.09 764.94A1.75 3.9 25 1 0 649.91 763.46A1.75 3.9 25 1 0 653.09 764.94ZM666.01 773.97A4.2 5.1 25 1 0 658.39 770.43A4.2 5.1 25 1 0 666.01 773.97ZM664.02 773.10A1.9 3.8 25 1 0 660.58 771.50A1.9 3.8 25 1 0 664.02 773.10Z"/><path d="M651.2 777.5L652.9 777.5L662.7 758.8L661.4 758.5Z"/><path fill="none" stroke="#000" stroke-width="1.15" d="M653.3 759.4C655.5 760.6 658.6 760.7 661.9 758.8"/></g></svg></div>
<div class="t" style="left:625.50px;top:1065.57px">44.38<svg class="pc" width="22.66" height="20" viewBox="0 0 22.66 20"><g transform="translate(-644.40,19.00) scale(1,0.9524) translate(0,-776.60)"><path fill-rule="evenodd" d="M654.43 765.85A3.9 5.2 25 1 0 647.37 762.55A3.9 5.2 25 1 0 654.43 765.85ZM653.09 764.94A1.75 3.9 25 1 0 649.91 763.46A1.75 3.9 25 1 0 653.09 764.94ZM666.01 773.97A4.2 5.1 25 1 0 658.39 770.43A4.2 5.1 25 1 0 666.01 773.97ZM664.02 773.10A1.9 3.8 25 1 0 660.58 771.50A1.9 3.8 25 1 0 664.02 773.10Z"/><path d="M651.2 777.5L652.9 777.5L662.7 758.8L661.4 758.5Z"/><path fill="none" stroke="#000" stroke-width="1.15" d="M653.3 759.4C655.5 760.6 658.6 760.7 661.9 758.8"/></g></svg></div>
<div class="t" style="left:755.35px;top:1065.57px">0.98<svg class="pc" width="22.66" height="20" viewBox="0 0 22.66 20"><g transform="translate(-644.40,19.00) scale(1,0.9524) translate(0,-776.60)"><path fill-rule="evenodd" d="M654.43 765.85A3.9 5.2 25 1 0 647.37 762.55A3.9 5.2 25 1 0 654.43 765.85ZM653.09 764.94A1.75 3.9 25 1 0 649.91 763.46A1.75 3.9 25 1 0 653.09 764.94ZM666.01 773.97A4.2 5.1 25 1 0 658.39 770.43A4.2 5.1 25 1 0 666.01 773.97ZM664.02 773.10A1.9 3.8 25 1 0 660.58 771.50A1.9 3.8 25 1 0 664.02 773.10Z"/><path d="M651.2 777.5L652.9 777.5L662.7 758.8L661.4 758.5Z"/><path fill="none" stroke="#000" stroke-width="1.15" d="M653.3 759.4C655.5 760.6 658.6 760.7 661.9 758.8"/></g></svg></div>
<div class="t" style="left:885.40px;top:1065.57px">95.60<svg class="pc" width="22.66" height="20" viewBox="0 0 22.66 20"><g transform="translate(-644.40,19.00) scale(1,0.9524) translate(0,-776.60)"><path fill-rule="evenodd" d="M654.43 765.85A3.9 5.2 25 1 0 647.37 762.55A3.9 5.2 25 1 0 654.43 765.85ZM653.09 764.94A1.75 3.9 25 1 0 649.91 763.46A1.75 3.9 25 1 0 653.09 764.94ZM666.01 773.97A4.2 5.1 25 1 0 658.39 770.43A4.2 5.1 25 1 0 666.01 773.97ZM664.02 773.10A1.9 3.8 25 1 0 660.58 771.50A1.9 3.8 25 1 0 664.02 773.10Z"/><path d="M651.2 777.5L652.9 777.5L662.7 758.8L661.4 758.5Z"/><path fill="none" stroke="#000" stroke-width="1.15" d="M653.3 759.4C655.5 760.6 658.6 760.7 661.9 758.8"/></g></svg></div>
<div class="t" style="left:1007.20px;top:1065.57px">7.18<svg class="pc" width="22.66" height="20" viewBox="0 0 22.66 20"><g transform="translate(-644.40,19.00) scale(1,0.9524) translate(0,-776.60)"><path fill-rule="evenodd" d="M654.43 765.85A3.9 5.2 25 1 0 647.37 762.55A3.9 5.2 25 1 0 654.43 765.85ZM653.09 764.94A1.75 3.9 25 1 0 649.91 763.46A1.75 3.9 25 1 0 653.09 764.94ZM666.01 773.97A4.2 5.1 25 1 0 658.39 770.43A4.2 5.1 25 1 0 666.01 773.97ZM664.02 773.10A1.9 3.8 25 1 0 660.58 771.50A1.9 3.8 25 1 0 664.02 773.10Z"/><path d="M651.2 777.5L652.9 777.5L662.7 758.8L661.4 758.5Z"/><path fill="none" stroke="#000" stroke-width="1.15" d="M653.3 759.4C655.5 760.6 658.6 760.7 661.9 758.8"/></g></svg></div>
<div class="t" style="left:1125.10px;top:1065.57px">4.45<svg class="pc" width="22.66" height="20" viewBox="0 0 22.66 20"><g transform="translate(-644.40,19.00) scale(1,0.9524) translate(0,-776.60)"><path fill-rule="evenodd" d="M654.43 765.85A3.9 5.2 25 1 0 647.37 762.55A3.9 5.2 25 1 0 654.43 765.85ZM653.09 764.94A1.75 3.9 25 1 0 649.91 763.46A1.75 3.9 25 1 0 653.09 764.94ZM666.01 773.97A4.2 5.1 25 1 0 658.39 770.43A4.2 5.1 25 1 0 666.01 773.97ZM664.02 773.10A1.9 3.8 25 1 0 660.58 771.50A1.9 3.8 25 1 0 664.02 773.10Z"/><path d="M651.2 777.5L652.9 777.5L662.7 758.8L661.4 758.5Z"/><path fill="none" stroke="#000" stroke-width="1.15" d="M653.3 759.4C655.5 760.6 658.6 760.7 661.9 758.8"/></g></svg></div>
<div class="t" style="left:238.80px;top:1117.38px">Provocative Attire</div>
<div class="t" style="left:516.25px;top:1117.38px">1.05<svg class="pc" width="22.66" height="20" viewBox="0 0 22.66 20"><g transform="translate(-644.40,19.00) scale(1,0.9524) translate(0,-776.60)"><path fill-rule="evenodd" d="M654.43 765.85A3.9 5.2 25 1 0 647.37 762.55A3.9 5.2 25 1 0 654.43 765.85ZM653.09 764.94A1.75 3.9 25 1 0 649.91 763.46A1.75 3.9 25 1 0 653.09 764.94ZM666.01 773.97A4.2 5.1 25 1 0 658.39 770.43A4.2 5.1 25 1 0 666.01 773.97ZM664.02 773.10A1.9 3.8 25 1 0 660.58 771.50A1.9 3.8 25 1 0 664.02 773.10Z"/><path d="M651.2 777.5L652.9 777.5L662.7 758.8L661.4 758.5Z"/><path fill="none" stroke="#000" stroke-width="1.15" d="M653.3 759.4C655.5 760.6 658.6 760.7 661.9 758.8"/></g></svg></div>
<div class="t" style="left:625.50px;top:1117.38px">1.02<svg class="pc" width="22.66" height="20" viewBox="0 0 22.66 20"><g transform="translate(-644.40,19.00) scale(1,0.9524) translate(0,-776.60)"><path fill-rule="evenodd" d="M654.43 765.85A3.9 5.2 25 1 0 647.37 762.55A3.9 5.2 25 1 0 654.43 765.85ZM653.09 764.94A1.75 3.9 25 1 0 649.91 763.46A1.75 3.9 25 1 0 653.09 764.94ZM666.01 773.97A4.2 5.1 25 1 0 658.39 770.43A4.2 5.1 25 1 0 666.01 773.97ZM664.02 773.10A1.9 3.8 25 1 0 660.58 771.50A1.9 3.8 25 1 0 664.02 773.10Z"/><path d="M651.2 777.5L652.9 777.5L662.7 758.8L661.4 758.5Z"/><path fill="none" stroke="#000" stroke-width="1.15" d="M653.3 759.4C655.5 760.6 658.6 760.7 661.9 758.8"/></g></svg></div>
<div class="t" style="left:755.35px;top:1117.38px">0.21<svg class="pc" width="22.66" height="20" viewBox="0 0 22.66 20"><g transform="translate(-644.40,19.00) scale(1,0.9524) translate(0,-776.60)"><path fill-rule="evenodd" d="M654.43 765.85A3.9 5.2 25 1 0 647.37 762.55A3.9 5.2 25 1 0 654.43 765.85ZM653.09 764.94A1.75 3.9 25 1 0 649.91 763.46A1.75 3.9 25 1 0 653.09 764.94ZM666.01 773.97A4.2 5.1 25 1 0 658.39 770.43A4.2 5.1 25 1 0 666.01 773.97ZM664.02 773.10A1.9 3.8 25 1 0 660.58 771.50A1.9 3.8 25 1 0 664.02 773.10Z"/><path d="M651.2 777.5L652.9 777.5L662.7 758.8L661.4 758.5Z"/><path fill="none" stroke="#000" stroke-width="1.15" d="M653.3 759.4C655.5 760.6 658.6 760.7 661.9 758.8"/></g></svg></div>
<div class="t" style="left:885.40px;top:1117.38px">97.83<svg class="pc" width="22.66" height="20" viewBox="0 0 22.66 20"><g transform="translate(-644.40,19.00) scale(1,0.9524) translate(0,-776.60)"><path fill-rule="evenodd" d="M654.43 765.85A3.9 5.2 25 1 0 647.37 762.55A3.9 5.2 25 1 0 654.43 765.85ZM653.09 764.94A1.75 3.9 25 1 0 649.91 763.46A1.75 3.9 25 1 0 653.09 764.94ZM666.01 773.97A4.2 5.1 25 1 0 658.39 770.43A4.2 5.1 25 1 0 666.01 773.97ZM664.02 773.10A1.9 3.8 25 1 0 660.58 771.50A1.9 3.8 25 1 0 664.02 773.10Z"/><path d="M651.2 777.5L652.9 777.5L662.7 758.8L661.4 758.5Z"/><path fill="none" stroke="#000" stroke-width="1.15" d="M653.3 759.4C655.5 760.6 658.6 760.7 661.9 758.8"/></g></svg></div>
<div class="t" style="left:1007.20px;top:1117.38px">0.74<svg class="pc" width="22.66" height="20" viewBox="0 0 22.66 20"><g transform="translate(-644.40,19.00) scale(1,0.9524) translate(0,-776.60)"><path fill-rule="evenodd" d="M654.43 765.85A3.9 5.2 25 1 0 647.37 762.55A3.9 5.2 25 1 0 654.43 765.85ZM653.09 764.94A1.75 3.9 25 1 0 649.91 763.46A1.75 3.9 25 1 0 653.09 764.94ZM666.01 773.97A4.2 5.1 25 1 0 658.39 770.43A4.2 5.1 25 1 0 666.01 773.97ZM664.02 773.10A1.9 3.8 25 1 0 660.58 771.50A1.9 3.8 25 1 0 664.02 773.10Z"/><path d="M651.2 777.5L652.9 777.5L662.7 758.8L661.4 758.5Z"/><path fill="none" stroke="#000" stroke-width="1.15" d="M653.3 759.4C655.5 760.6 658.6 760.7 661.9 758.8"/></g></svg></div>
<div class="t" style="left:1125.10px;top:1117.38px">0.78<svg class="pc" width="22.66" height="20" viewBox="0 0 22.66 20"><g transform="translate(-644.40,19.00) scale(1,0.9524) translate(0,-776.60)"><path fill-rule="evenodd" d="M654.43 765.85A3.9 5.2 25 1 0 647.37 762.55A3.9 5.2 25 1 0 654.43 765.85ZM653.09 764.94A1.75 3.9 25 1 0 649.91 763.46A1.75 3.9 25 1 0 653.09 764.94ZM666.01 773.97A4.2 5.1 25 1 0 658.39 770.43A4.2 5.1 25 1 0 666.01 773.97ZM664.02 773.10A1.9 3.8 25 1 0 660.58 771.50A1.9 3.8 25 1 0 664.02 773.10Z"/><path d="M651.2 777.5L652.9 777.5L662.7 758.8L661.4 758.5Z"/><path fill="none" stroke="#000" stroke-width="1.15" d="M653.3 759.4C655.5 760.6 658.6 760.7 661.9 758.8"/></g></svg></div>
<div class="t" style="left:238.80px;top:1169.24px">Public Health</div>
<div class="t" style="left:516.25px;top:1169.24px">0.92<svg class="pc" width="22.66" height="20" viewBox="0 0 22.66 20"><g transform="translate(-644.40,19.00) scale(1,0.9524) translate(0,-776.60)"><path fill-rule="evenodd" d="M654.43 765.85A3.9 5.2 25 1 0 647.37 762.55A3.9 5.2 25 1 0 654.43 765.85ZM653.09 764.94A1.75 3.9 25 1 0 649.91 763.46A1.75 3.9 25 1 0 653.09 764.94ZM666.01 773.97A4.2 5.1 25 1 0 658.39 770.43A4.2 5.1 25 1 0 666.01 773.97ZM664.02 773.10A1.9 3.8 25 1 0 660.58 771.50A1.9 3.8 25 1 0 664.02 773.10Z"/><path d="M651.2 777.5L652.9 777.5L662.7 758.8L661.4 758.5Z"/><path fill="none" stroke="#000" stroke-width="1.15" d="M653.3 759.4C655.5 760.6 658.6 760.7 661.9 758.8"/></g></svg></div>
<div class="t" style="left:625.50px;top:1169.24px">6.57<svg class="pc" width="22.66" height="20" viewBox="0 0 22.66 20"><g transform="translate(-644.40,19.00) scale(1,0.9524) translate(0,-776.60)"><path fill-rule="evenodd" d="M654.43 765.85A3.9 5.2 25 1 0 647.37 762.55A3.9 5.2 25 1 0 654.43 765.85ZM653.09 764.94A1.75 3.9 25 1 0 649.91 763.46A1.75 3.9 25 1 0 653.09 764.94ZM666.01 773.97A4.2 5.1 25 1 0 658.39 770.43A4.2 5.1 25 1 0 666.01 773.97ZM664.02 773.10A1.9 3.8 25 1 0 660.58 771.50A1.9 3.8 25 1 0 664.02 773.10Z"/><path d="M651.2 777.5L652.9 777.5L662.7 758.8L661.4 758.5Z"/><path fill="none" stroke="#000" stroke-width="1.15" d="M653.3 759.4C655.5 760.6 658.6 760.7 661.9 758.8"/></g></svg></div>
<div class="t" style="left:755.35px;top:1169.24px">0.09<svg class="pc" width="22.66" height="20" viewBox="0 0 22.66 20"><g transform="translate(-644.40,19.00) scale(1,0.9524) translate(0,-776.60)"><path fill-rule="evenodd" d="M654.43 765.85A3.9 5.2 25 1 0 647.37 762.55A3.9 5.2 25 1 0 654.43 765.85ZM653.09 764.94A1.75 3.9 25 1 0 649.91 763.46A1.75 3.9 25 1 0 653.09 764.94ZM666.01 773.97A4.2 5.1 25 1 0 658.39 770.43A4.2 5.1 25 1 0 666.01 773.97ZM664.02 773.10A1.9 3.8 25 1 0 660.58 771.50A1.9 3.8 25 1 0 664.02 773.10Z"/><path d="M651.2 777.5L652.9 777.5L662.7 758.8L661.4 758.5Z"/><path fill="none" stroke="#000" stroke-width="1.15" d="M653.3 759.4C655.5 760.6 658.6 760.7 661.9 758.8"/></g></svg></div>
<div class="t" style="left:885.40px;top:1169.24px">22.12<svg class="pc" width="22.66" height="20" viewBox="0 0 22.66 20"><g transform="translate(-644.40,19.00) scale(1,0.9524) translate(0,-776.60)"><path fill-rule="evenodd" d="M654.43 765.85A3.9 5.2 25 1 0 647.37 762.55A3.9 5.2 25 1 0 654.43 765.85ZM653.09 764.94A1.75 3.9 25 1 0 649.91 763.46A1.75 3.9 25 1 0 653.09 764.94ZM666.01 773.97A4.2 5.1 25 1 0 658.39 770.43A4.2 5.1 25 1 0 666.01 773.97ZM664.02 773.10A1.9 3.8 25 1 0 660.58 771.50A1.9 3.8 25 1 0 664.02 773.10Z"/><path d="M651.2 777.5L652.9 777.5L662.7 758.8L661.4 758.5Z"/><path fill="none" stroke="#000" stroke-width="1.15" d="M653.3 759.4C655.5 760.6 658.6 760.7 661.9 758.8"/></g></svg></div>
<div class="t" style="left:1007.20px;top:1169.24px">0.25<svg class="pc" width="22.66" height="20" viewBox="0 0 22.66 20"><g transform="translate(-644.40,19.00) scale(1,0.9524) translate(0,-776.60)"><path fill-rule="evenodd" d="M654.43 765.85A3.9 5.2 25 1 0 647.37 762.55A3.9 5.2 25 1 0 654.43 765.85ZM653.09 764.94A1.75 3.9 25 1 0 649.91 763.46A1.75 3.9 25 1 0 653.09 764.94ZM666.01 773.97A4.2 5.1 25 1 0 658.39 770.43A4.2 5.1 25 1 0 666.01 773.97ZM664.02 773.10A1.9 3.8 25 1 0 660.58 771.50A1.9 3.8 25 1 0 664.02 773.10Z"/><path d="M651.2 777.5L652.9 777.5L662.7 758.8L661.4 758.5Z"/><path fill="none" stroke="#000" stroke-width="1.15" d="M653.3 759.4C655.5 760.6 658.6 760.7 661.9 758.8"/></g></svg></div>
<div class="t" style="left:1125.10px;top:1169.24px">0.00<svg class="pc" width="22.66" height="20" viewBox="0 0 22.66 20"><g transform="translate(-644.40,19.00) scale(1,0.9524) translate(0,-776.60)"><path fill-rule="evenodd" d="M654.43 765.85A3.9 5.2 25 1 0 647.37 762.55A3.9 5.2 25 1 0 654.43 765.85ZM653.09 764.94A1.75 3.9 25 1 0 649.91 763.46A1.75 3.9 25 1 0 653.09 764.94ZM666.01 773.97A4.2 5.1 25 1 0 658.39 770.43A4.2 5.1 25 1 0 666.01 773.97ZM664.02 773.10A1.9 3.8 25 1 0 660.58 771.50A1.9 3.8 25 1 0 664.02 773.10Z"/><path d="M651.2 777.5L652.9 777.5L662.7 758.8L661.4 758.5Z"/><path fill="none" stroke="#000" stroke-width="1.15" d="M653.3 759.4C655.5 760.6 658.6 760.7 661.9 758.8"/></g></svg></div>
<div class="t" style="left:238.80px;top:1221.10px">Religion</div>
<div class="t" style="left:516.25px;top:1221.10px">0.67<svg class="pc" width="22.66" height="20" viewBox="0 0 22.66 20"><g transform="translate(-644.40,19.00) scale(1,0.9524) translate(0,-776.60)"><path fill-rule="evenodd" d="M654.43 765.85A3.9 5.2 25 1 0 647.37 762.55A3.9 5.2 25 1 0 654.43 765.85ZM653.09 764.94A1.75 3.9 25 1 0 649.91 763.46A1.75 3.9 25 1 0 653.09 764.94ZM666.01 773.97A4.2 5.1 25 1 0 658.39 770.43A4.2 5.1 25 1 0 666.01 773.97ZM664.02 773.10A1.9 3.8 25 1 0 660.58 771.50A1.9 3.8 25 1 0 664.02 773.10Z"/><path d="M651.2 777.5L652.9 777.5L662.7 758.8L661.4 758.5Z"/><path fill="none" stroke="#000" stroke-width="1.15" d="M653.3 759.4C655.5 760.6 658.6 760.7 661.9 758.8"/></g></svg></div>
<div class="t" style="left:625.50px;top:1221.10px">10.65<svg class="pc" width="22.66" height="20" viewBox="0 0 22.66 20"><g transform="translate(-644.40,19.00) scale(1,0.9524) translate(0,-776.60)"><path fill-rule="evenodd" d="M654.43 765.85A3.9 5.2 25 1 0 647.37 762.55A3.9 5.2 25 1 0 654.43 765.85ZM653.09 764.94A1.75 3.9 25 1 0 649.91 763.46A1.75 3.9 25 1 0 653.09 764.94ZM666.01 773.97A4.2 5.1 25 1 0 658.39 770.43A4.2 5.1 25 1 0 666.01 773.97ZM664.02 773.10A1.9 3.8 25 1 0 660.58 771.50A1.9 3.8 25 1 0 664.02 773.10Z"/><path d="M651.2 777.5L652.9 777.5L662.7 758.8L661.4 758.5Z"/><path fill="none" stroke="#000" stroke-width="1.15" d="M653.3 759.4C655.5 760.6 658.6 760.7 661.9 758.8"/></g></svg></div>
<div class="t" style="left:755.35px;top:1221.10px">0.11<svg class="pc" width="22.66" height="20" viewBox="0 0 22.66 20"><g transform="translate(-644.40,19.00) scale(1,0.9524) translate(0,-776.60)"><path fill-rule="evenodd" d="M654.43 765.85A3.9 5.2 25 1 0 647.37 762.55A3.9 5.2 25 1 0 654.43 765.85ZM653.09 764.94A1.75 3.9 25 1 0 649.91 763.46A1.75 3.9 25 1 0 653.09 764.94ZM666.01 773.97A4.2 5.1 25 1 0 658.39 770.43A4.2 5.1 25 1 0 666.01 773.97ZM664.02 773.10A1.9 3.8 25 1 0 660.58 771.50A1.9 3.8 25 1 0 664.02 773.10Z"/><path d="M651.2 777.5L652.9 777.5L662.7 758.8L661.4 758.5Z"/><path fill="none" stroke="#000" stroke-width="1.15" d="M653.3 759.4C655.5 760.6 658.6 760.7 661.9 758.8"/></g></svg></div>
<div class="t" style="left:885.40px;top:1221.10px">58.78<svg class="pc" width="22.66" height="20" viewBox="0 0 22.66 20"><g transform="translate(-644.40,19.00) scale(1,0.9524) translate(0,-776.60)"><path fill-rule="evenodd" d="M654.43 765.85A3.9 5.2 25 1 0 647.37 762.55A3.9 5.2 25 1 0 654.43 765.85ZM653.09 764.94A1.75 3.9 25 1 0 649.91 763.46A1.75 3.9 25 1 0 653.09 764.94ZM666.01 773.97A4.2 5.1 25 1 0 658.39 770.43A4.2 5.1 25 1 0 666.01 773.97ZM664.02 773.10A1.9 3.8 25 1 0 660.58 771.50A1.9 3.8 25 1 0 664.02 773.10Z"/><path d="M651.2 777.5L652.9 777.5L662.7 758.8L661.4 758.5Z"/><path fill="none" stroke="#000" stroke-width="1.15" d="M653.3 759.4C655.5 760.6 658.6 760.7 661.9 758.8"/></g></svg></div>
<div class="t" style="left:1007.20px;top:1221.10px">0.00<svg class="pc" width="22.66" height="20" viewBox="0 0 22.66 20"><g transform="translate(-644.40,19.00) scale(1,0.9524) translate(0,-776.60)"><path fill-rule="evenodd" d="M654.43 765.85A3.9 5.2 25 1 0 647.37 762.55A3.9 5.2 25 1 0 654.43 765.85ZM653.09 764.94A1.75 3.9 25 1 0 649.91 763.46A1.75 3.9 25 1 0 653.09 764.94ZM666.01 773.97A4.2 5.1 25 1 0 658.39 770.43A4.2 5.1 25 1 0 666.01 773.97ZM664.02 773.10A1.9 3.8 25 1 0 660.58 771.50A1.9 3.8 25 1 0 664.02 773.10Z"/><path d="M651.2 777.5L652.9 777.5L662.7 758.8L661.4 758.5Z"/><path fill="none" stroke="#000" stroke-width="1.15" d="M653.3 759.4C655.5 760.6 658.6 760.7 661.9 758.8"/></g></svg></div>
<div class="t" style="left:1125.10px;top:1221.10px">0.00<svg class="pc" width="22.66" height="20" viewBox="0 0 22.66 20"><g transform="translate(-644.40,19.00) scale(1,0.9524) translate(0,-776.60)"><path fill-rule="evenodd" d="M654.43 765.85A3.9 5.2 25 1 0 647.37 762.55A3.9 5.2 25 1 0 654.43 765.85ZM653.09 764.94A1.75 3.9 25 1 0 649.91 763.46A1.75 3.9 25 1 0 653.09 764.94ZM666.01 773.97A4.2 5.1 25 1 0 658.39 770.43A4.2 5.1 25 1 0 666.01 773.97ZM664.02 773.10A1.9 3.8 25 1 0 660.58 771.50A1.9 3.8 25 1 0 664.02 773.10Z"/><path d="M651.2 777.5L652.9 777.5L662.7 758.8L661.4 758.5Z"/><path fill="none" stroke="#000" stroke-width="1.15" d="M653.3 759.4C655.5 760.6 658.6 760.7 661.9 758.8"/></g></svg></div>
<div class="t" style="left:238.80px;top:1272.96px">Search Engines</div>
<div class="t" style="left:516.25px;top:1272.96px">1.96<svg class="pc" width="22.66" height="20" viewBox="0 0 22.66 20"><g transform="translate(-644.40,19.00) scale(1,0.9524) translate(0,-776.60)"><path fill-rule="evenodd" d="M654.43 765.85A3.9 5.2 25 1 0 647.37 762.55A3.9 5.2 25 1 0 654.43 765.85ZM653.09 764.94A1.75 3.9 25 1 0 649.91 763.46A1.75 3.9 25 1 0 653.09 764.94ZM666.01 773.97A4.2 5.1 25 1 0 658.39 770.43A4.2 5.1 25 1 0 666.01 773.97ZM664.02 773.10A1.9 3.8 25 1 0 660.58 771.50A1.9 3.8 25 1 0 664.02 773.10Z"/><path d="M651.2 777.5L652.9 777.5L662.7 758.8L661.4 758.5Z"/><path fill="none" stroke="#000" stroke-width="1.15" d="M653.3 759.4C655.5 760.6 658.6 760.7 661.9 758.8"/></g></svg></div>
<div class="t" style="left:625.50px;top:1272.96px">25.12<svg class="pc" width="22.66" height="20" viewBox="0 0 22.66 20"><g transform="translate(-644.40,19.00) scale(1,0.9524) translate(0,-776.60)"><path fill-rule="evenodd" d="M654.43 765.85A3.9 5.2 25 1 0 647.37 762.55A3.9 5.2 25 1 0 654.43 765.85ZM653.09 764.94A1.75 3.9 25 1 0 649.91 763.46A1.75 3.9 25 1 0 653.09 764.94ZM666.01 773.97A4.2 5.1 25 1 0 658.39 770.43A4.2 5.1 25 1 0 666.01 773.97ZM664.02 773.10A1.9 3.8 25 1 0 660.58 771.50A1.9 3.8 25 1 0 664.02 773.10Z"/><path d="M651.2 777.5L652.9 777.5L662.7 758.8L661.4 758.5Z"/><path fill="none" stroke="#000" stroke-width="1.15" d="M653.3 759.4C655.5 760.6 658.6 760.7 661.9 758.8"/></g></svg></div>
<div class="t" style="left:755.35px;top:1272.96px">0.10<svg class="pc" width="22.66" height="20" viewBox="0 0 22.66 20"><g transform="translate(-644.40,19.00) scale(1,0.9524) translate(0,-776.60)"><path fill-rule="evenodd" d="M654.43 765.85A3.9 5.2 25 1 0 647.37 762.55A3.9 5.2 25 1 0 654.43 765.85ZM653.09 764.94A1.75 3.9 25 1 0 649.91 763.46A1.75 3.9 25 1 0 653.09 764.94ZM666.01 773.97A4.2 5.1 25 1 0 658.39 770.43A4.2 5.1 25 1 0 666.01 773.97ZM664.02 773.10A1.9 3.8 25 1 0 660.58 771.50A1.9 3.8 25 1 0 664.02 773.10Z"/><path d="M651.2 777.5L652.9 777.5L662.7 758.8L661.4 758.5Z"/><path fill="none" stroke="#000" stroke-width="1.15" d="M653.3 759.4C655.5 760.6 658.6 760.7 661.9 758.8"/></g></svg></div>
<div class="t" style="left:885.40px;top:1272.96px">33.80<svg class="pc" width="22.66" height="20" viewBox="0 0 22.66 20"><g transform="translate(-644.40,19.00) scale(1,0.9524) translate(0,-776.60)"><path fill-rule="evenodd" d="M654.43 765.85A3.9 5.2 25 1 0 647.37 762.55A3.9 5.2 25 1 0 654.43 765.85ZM653.09 764.94A1.75 3.9 25 1 0 649.91 763.46A1.75 3.9 25 1 0 653.09 764.94ZM666.01 773.97A4.2 5.1 25 1 0 658.39 770.43A4.2 5.1 25 1 0 666.01 773.97ZM664.02 773.10A1.9 3.8 25 1 0 660.58 771.50A1.9 3.8 25 1 0 664.02 773.10Z"/><path d="M651.2 777.5L652.9 777.5L662.7 758.8L661.4 758.5Z"/><path fill="none" stroke="#000" stroke-width="1.15" d="M653.3 759.4C655.5 760.6 658.6 760.7 661.9 758.8"/></g></svg></div>
<div class="t" style="left:1007.20px;top:1272.96px">0.17<svg class="pc" width="22.66" height="20" viewBox="0 0 22.66 20"><g transform="translate(-644.40,19.00) scale(1,0.9524) translate(0,-776.60)"><path fill-rule="evenodd" d="M654.43 765.85A3.9 5.2 25 1 0 647.37 762.55A3.9 5.2 25 1 0 654.43 765.85ZM653.09 764.94A1.75 3.9 25 1 0 649.91 763.46A1.75 3.9 25 1 0 653.09 764.94ZM666.01 773.97A4.2 5.1 25 1 0 658.39 770.43A4.2 5.1 25 1 0 666.01 773.97ZM664.02 773.10A1.9 3.8 25 1 0 660.58 771.50A1.9 3.8 25 1 0 664.02 773.10Z"/><path d="M651.2 777.5L652.9 777.5L662.7 758.8L661.4 758.5Z"/><path fill="none" stroke="#000" stroke-width="1.15" d="M653.3 759.4C655.5 760.6 658.6 760.7 661.9 758.8"/></g></svg></div>
<div class="t" style="left:1125.10px;top:1272.96px">0.00<svg class="pc" width="22.66" height="20" viewBox="0 0 22.66 20"><g transform="translate(-644.40,19.00) scale(1,0.9524) translate(0,-776.60)"><path fill-rule="evenodd" d="M654.43 765.85A3.9 5.2 25 1 0 647.37 762.55A3.9 5.2 25 1 0 654.43 765.85ZM653.09 764.94A1.75 3.9 25 1 0 649.91 763.46A1.75 3.9 25 1 0 653.09 764.94ZM666.01 773.97A4.2 5.1 25 1 0 658.39 770.43A4.2 5.1 25 1 0 666.01 773.97ZM664.02 773.10A1.9 3.8 25 1 0 660.58 771.50A1.9 3.8 25 1 0 664.02 773.10Z"/><path d="M651.2 777.5L652.9 777.5L662.7 758.8L661.4 758.5Z"/><path fill="none" stroke="#000" stroke-width="1.15" d="M653.3 759.4C655.5 760.6 658.6 760.7 661.9 758.8"/></g></svg></div>
<div class="t" style="left:238.80px;top:1324.82px">Sex Education</div>
<div class="t" style="left:516.25px;top:1324.82px">1.35<svg class="pc" width="22.66" height="20" viewBox="0 0 22.66 20"><g transform="translate(-644.40,19.00) scale(1,0.9524) translate(0,-776.60)"><path fill-rule="evenodd" d="M654.43 765.85A3.9 5.2 25 1 0 647.37 762.55A3.9 5.2 25 1 0 654.43 765.85ZM653.09 764.94A1.75 3.9 25 1 0 649.91 763.46A1.75 3.9 25 1 0 653.09 764.94ZM666.01 773.97A4.2 5.1 25 1 0 658.39 770.43A4.2 5.1 25 1 0 666.01 773.97ZM664.02 773.10A1.9 3.8 25 1 0 660.58 771.50A1.9 3.8 25 1 0 664.02 773.10Z"/><path d="M651.2 777.5L652.9 777.5L662.7 758.8L661.4 758.5Z"/><path fill="none" stroke="#000" stroke-width="1.15" d="M653.3 759.4C655.5 760.6 658.6 760.7 661.9 758.8"/></g></svg></div>
<div class="t" style="left:625.50px;top:1324.82px">17.86<svg class="pc" width="22.66" height="20" viewBox="0 0 22.66 20"><g transform="translate(-644.40,19.00) scale(1,0.9524) translate(0,-776.60)"><path fill-rule="evenodd" d="M654.43 765.85A3.9 5.2 25 1 0 647.37 762.55A3.9 5.2 25 1 0 654.43 765.85ZM653.09 764.94A1.75 3.9 25 1 0 649.91 763.46A1.75 3.9 25 1 0 653.09 764.94ZM666.01 773.97A4.2 5.1 25 1 0 658.39 770.43A4.2 5.1 25 1 0 666.01 773.97ZM664.02 773.10A1.9 3.8 25 1 0 660.58 771.50A1.9 3.8 25 1 0 664.02 773.10Z"/><path d="M651.2 777.5L652.9 777.5L662.7 758.8L661.4 758.5Z"/><path fill="none" stroke="#000" stroke-width="1.15" d="M653.3 759.4C655.5 760.6 658.6 760.7 661.9 758.8"/></g></svg></div>
<div class="t" style="left:755.35px;top:1324.82px">0.28<svg class="pc" width="22.66" height="20" viewBox="0 0 22.66 20"><g transform="translate(-644.40,19.00) scale(1,0.9524) translate(0,-776.60)"><path fill-rule="evenodd" d="M654.43 765.85A3.9 5.2 25 1 0 647.37 762.55A3.9 5.2 25 1 0 654.43 765.85ZM653.09 764.94A1.75 3.9 25 1 0 649.91 763.46A1.75 3.9 25 1 0 653.09 764.94ZM666.01 773.97A4.2 5.1 25 1 0 658.39 770.43A4.2 5.1 25 1 0 666.01 773.97ZM664.02 773.10A1.9 3.8 25 1 0 660.58 771.50A1.9 3.8 25 1 0 664.02 773.10Z"/><path d="M651.2 777.5L652.9 777.5L662.7 758.8L661.4 758.5Z"/><path fill="none" stroke="#000" stroke-width="1.15" d="M653.3 759.4C655.5 760.6 658.6 760.7 661.9 758.8"/></g></svg></div>
<div class="t" style="left:885.40px;top:1324.82px">55.90<svg class="pc" width="22.66" height="20" viewBox="0 0 22.66 20"><g transform="translate(-644.40,19.00) scale(1,0.9524) translate(0,-776.60)"><path fill-rule="evenodd" d="M654.43 765.85A3.9 5.2 25 1 0 647.37 762.55A3.9 5.2 25 1 0 654.43 765.85ZM653.09 764.94A1.75 3.9 25 1 0 649.91 763.46A1.75 3.9 25 1 0 653.09 764.94ZM666.01 773.97A4.2 5.1 25 1 0 658.39 770.43A4.2 5.1 25 1 0 666.01 773.97ZM664.02 773.10A1.9 3.8 25 1 0 660.58 771.50A1.9 3.8 25 1 0 664.02 773.10Z"/><path d="M651.2 777.5L652.9 777.5L662.7 758.8L661.4 758.5Z"/><path fill="none" stroke="#000" stroke-width="1.15" d="M653.3 759.4C655.5 760.6 658.6 760.7 661.9 758.8"/></g></svg></div>
<div class="t" style="left:1007.20px;top:1324.82px">0.19<svg class="pc" width="22.66" height="20" viewBox="0 0 22.66 20"><g transform="translate(-644.40,19.00) scale(1,0.9524) translate(0,-776.60)"><path fill-rule="evenodd" d="M654.43 765.85A3.9 5.2 25 1 0 647.37 762.55A3.9 5.2 25 1 0 654.43 765.85ZM653.09 764.94A1.75 3.9 25 1 0 649.91 763.46A1.75 3.9 25 1 0 653.09 764.94ZM666.01 773.97A4.2 5.1 25 1 0 658.39 770.43A4.2 5.1 25 1 0 666.01 773.97ZM664.02 773.10A1.9 3.8 25 1 0 660.58 771.50A1.9 3.8 25 1 0 664.02 773.10Z"/><path d="M651.2 777.5L652.9 777.5L662.7 758.8L661.4 758.5Z"/><path fill="none" stroke="#000" stroke-width="1.15" d="M653.3 759.4C655.5 760.6 658.6 760.7 661.9 758.8"/></g></svg></div>
<div class="t" style="left:1125.10px;top:1324.82px">0.00<svg class="pc" width="22.66" height="20" viewBox="0 0 22.66 20"><g transform="translate(-644.40,19.00) scale(1,0.9524) translate(0,-776.60)"><path fill-rule="evenodd" d="M654.43 765.85A3.9 5.2 25 1 0 647.37 762.55A3.9 5.2 25 1 0 654.43 765.85ZM653.09 764.94A1.75 3.9 25 1 0 649.91 763.46A1.75 3.9 25 1 0 653.09 764.94ZM666.01 773.97A4.2 5.1 25 1 0 658.39 770.43A4.2 5.1 25 1 0 666.01 773.97ZM664.02 773.10A1.9 3.8 25 1 0 660.58 771.50A1.9 3.8 25 1 0 664.02 773.10Z"/><path d="M651.2 777.5L652.9 777.5L662.7 758.8L661.4 758.5Z"/><path fill="none" stroke="#000" stroke-width="1.15" d="M653.3 759.4C655.5 760.6 658.6 760.7 661.9 758.8"/></g></svg></div>
<div class="t" style="left:238.80px;top:1376.68px">Social Networking</div>
<div class="t" style="left:516.25px;top:1376.68px">5.97<svg class="pc" width="22.66" height="20" viewBox="0 0 22.66 20"><g transform="translate(-644.40,19.00) scale(1,0.9524) translate(0,-776.60)"><path fill-rule="evenodd" d="M654.43 765.85A3.9 5.2 25 1 0 647.37 762.55A3.9 5.2 25 1 0 654.43 765.85ZM653.09 764.94A1.75 3.9 25 1 0 649.91 763.46A1.75 3.9 25 1 0 653.09 764.94ZM666.01 773.97A4.2 5.1 25 1 0 658.39 770.43A4.2 5.1 25 1 0 666.01 773.97ZM664.02 773.10A1.9 3.8 25 1 0 660.58 771.50A1.9 3.8 25 1 0 664.02 773.10Z"/><path d="M651.2 777.5L652.9 777.5L662.7 758.8L661.4 758.5Z"/><path fill="none" stroke="#000" stroke-width="1.15" d="M653.3 759.4C655.5 760.6 658.6 760.7 661.9 758.8"/></g></svg></div>
<div class="t" style="left:625.50px;top:1376.68px">61.91<svg class="pc" width="22.66" height="20" viewBox="0 0 22.66 20"><g transform="translate(-644.40,19.00) scale(1,0.9524) translate(0,-776.60)"><path fill-rule="evenodd" d="M654.43 765.85A3.9 5.2 25 1 0 647.37 762.55A3.9 5.2 25 1 0 654.43 765.85ZM653.09 764.94A1.75 3.9 25 1 0 649.91 763.46A1.75 3.9 25 1 0 653.09 764.94ZM666.01 773.97A4.2 5.1 25 1 0 658.39 770.43A4.2 5.1 25 1 0 666.01 773.97ZM664.02 773.10A1.9 3.8 25 1 0 660.58 771.50A1.9 3.8 25 1 0 664.02 773.10Z"/><path d="M651.2 777.5L652.9 777.5L662.7 758.8L661.4 758.5Z"/><path fill="none" stroke="#000" stroke-width="1.15" d="M653.3 759.4C655.5 760.6 658.6 760.7 661.9 758.8"/></g></svg></div>
<div class="t" style="left:755.35px;top:1376.68px">0.65<svg class="pc" width="22.66" height="20" viewBox="0 0 22.66 20"><g transform="translate(-644.40,19.00) scale(1,0.9524) translate(0,-776.60)"><path fill-rule="evenodd" d="M654.43 765.85A3.9 5.2 25 1 0 647.37 762.55A3.9 5.2 25 1 0 654.43 765.85ZM653.09 764.94A1.75 3.9 25 1 0 649.91 763.46A1.75 3.9 25 1 0 653.09 764.94ZM666.01 773.97A4.2 5.1 25 1 0 658.39 770.43A4.2 5.1 25 1 0 666.01 773.97ZM664.02 773.10A1.9 3.8 25 1 0 660.58 771.50A1.9 3.8 25 1 0 664.02 773.10Z"/><path d="M651.2 777.5L652.9 777.5L662.7 758.8L661.4 758.5Z"/><path fill="none" stroke="#000" stroke-width="1.15" d="M653.3 759.4C655.5 760.6 658.6 760.7 661.9 758.8"/></g></svg></div>
<div class="t" style="left:885.40px;top:1376.68px">79.25<svg class="pc" width="22.66" height="20" viewBox="0 0 22.66 20"><g transform="translate(-644.40,19.00) scale(1,0.9524) translate(0,-776.60)"><path fill-rule="evenodd" d="M654.43 765.85A3.9 5.2 25 1 0 647.37 762.55A3.9 5.2 25 1 0 654.43 765.85ZM653.09 764.94A1.75 3.9 25 1 0 649.91 763.46A1.75 3.9 25 1 0 653.09 764.94ZM666.01 773.97A4.2 5.1 25 1 0 658.39 770.43A4.2 5.1 25 1 0 666.01 773.97ZM664.02 773.10A1.9 3.8 25 1 0 660.58 771.50A1.9 3.8 25 1 0 664.02 773.10Z"/><path d="M651.2 777.5L652.9 777.5L662.7 758.8L661.4 758.5Z"/><path fill="none" stroke="#000" stroke-width="1.15" d="M653.3 759.4C655.5 760.6 658.6 760.7 661.9 758.8"/></g></svg></div>
<div class="t" style="left:1007.20px;top:1376.68px">1.50<svg class="pc" width="22.66" height="20" viewBox="0 0 22.66 20"><g transform="translate(-644.40,19.00) scale(1,0.9524) translate(0,-776.60)"><path fill-rule="evenodd" d="M654.43 765.85A3.9 5.2 25 1 0 647.37 762.55A3.9 5.2 25 1 0 654.43 765.85ZM653.09 764.94A1.75 3.9 25 1 0 649.91 763.46A1.75 3.9 25 1 0 653.09 764.94ZM666.01 773.97A4.2 5.1 25 1 0 658.39 770.43A4.2 5.1 25 1 0 666.01 773.97ZM664.02 773.10A1.9 3.8 25 1 0 660.58 771.50A1.9 3.8 25 1 0 664.02 773.10Z"/><path d="M651.2 777.5L652.9 777.5L662.7 758.8L661.4 758.5Z"/><path fill="none" stroke="#000" stroke-width="1.15" d="M653.3 759.4C655.5 760.6 658.6 760.7 661.9 758.8"/></g></svg></div>
<div class="t" style="left:1125.10px;top:1376.68px">0.93<svg class="pc" width="22.66" height="20" viewBox="0 0 22.66 20"><g transform="translate(-644.40,19.00) scale(1,0.9524) translate(0,-776.60)"><path fill-rule="evenodd" d="M654.43 765.85A3.9 5.2 25 1 0 647.37 762.55A3.9 5.2 25 1 0 654.43 765.85ZM653.09 764.94A1.75 3.9 25 1 0 649.91 763.46A1.75 3.9 25 1 0 653.09 764.94ZM666.01 773.97A4.2 5.1 25 1 0 658.39 770.43A4.2 5.1 25 1 0 666.01 773.97ZM664.02 773.10A1.9 3.8 25 1 0 660.58 771.50A1.9 3.8 25 1 0 664.02 773.10Z"/><path d="M651.2 777.5L652.9 777.5L662.7 758.8L661.4 758.5Z"/><path fill="none" stroke="#000" stroke-width="1.15" d="M653.3 759.4C655.5 760.6 658.6 760.7 661.9 758.8"/></g></svg></div>
</body></html>
